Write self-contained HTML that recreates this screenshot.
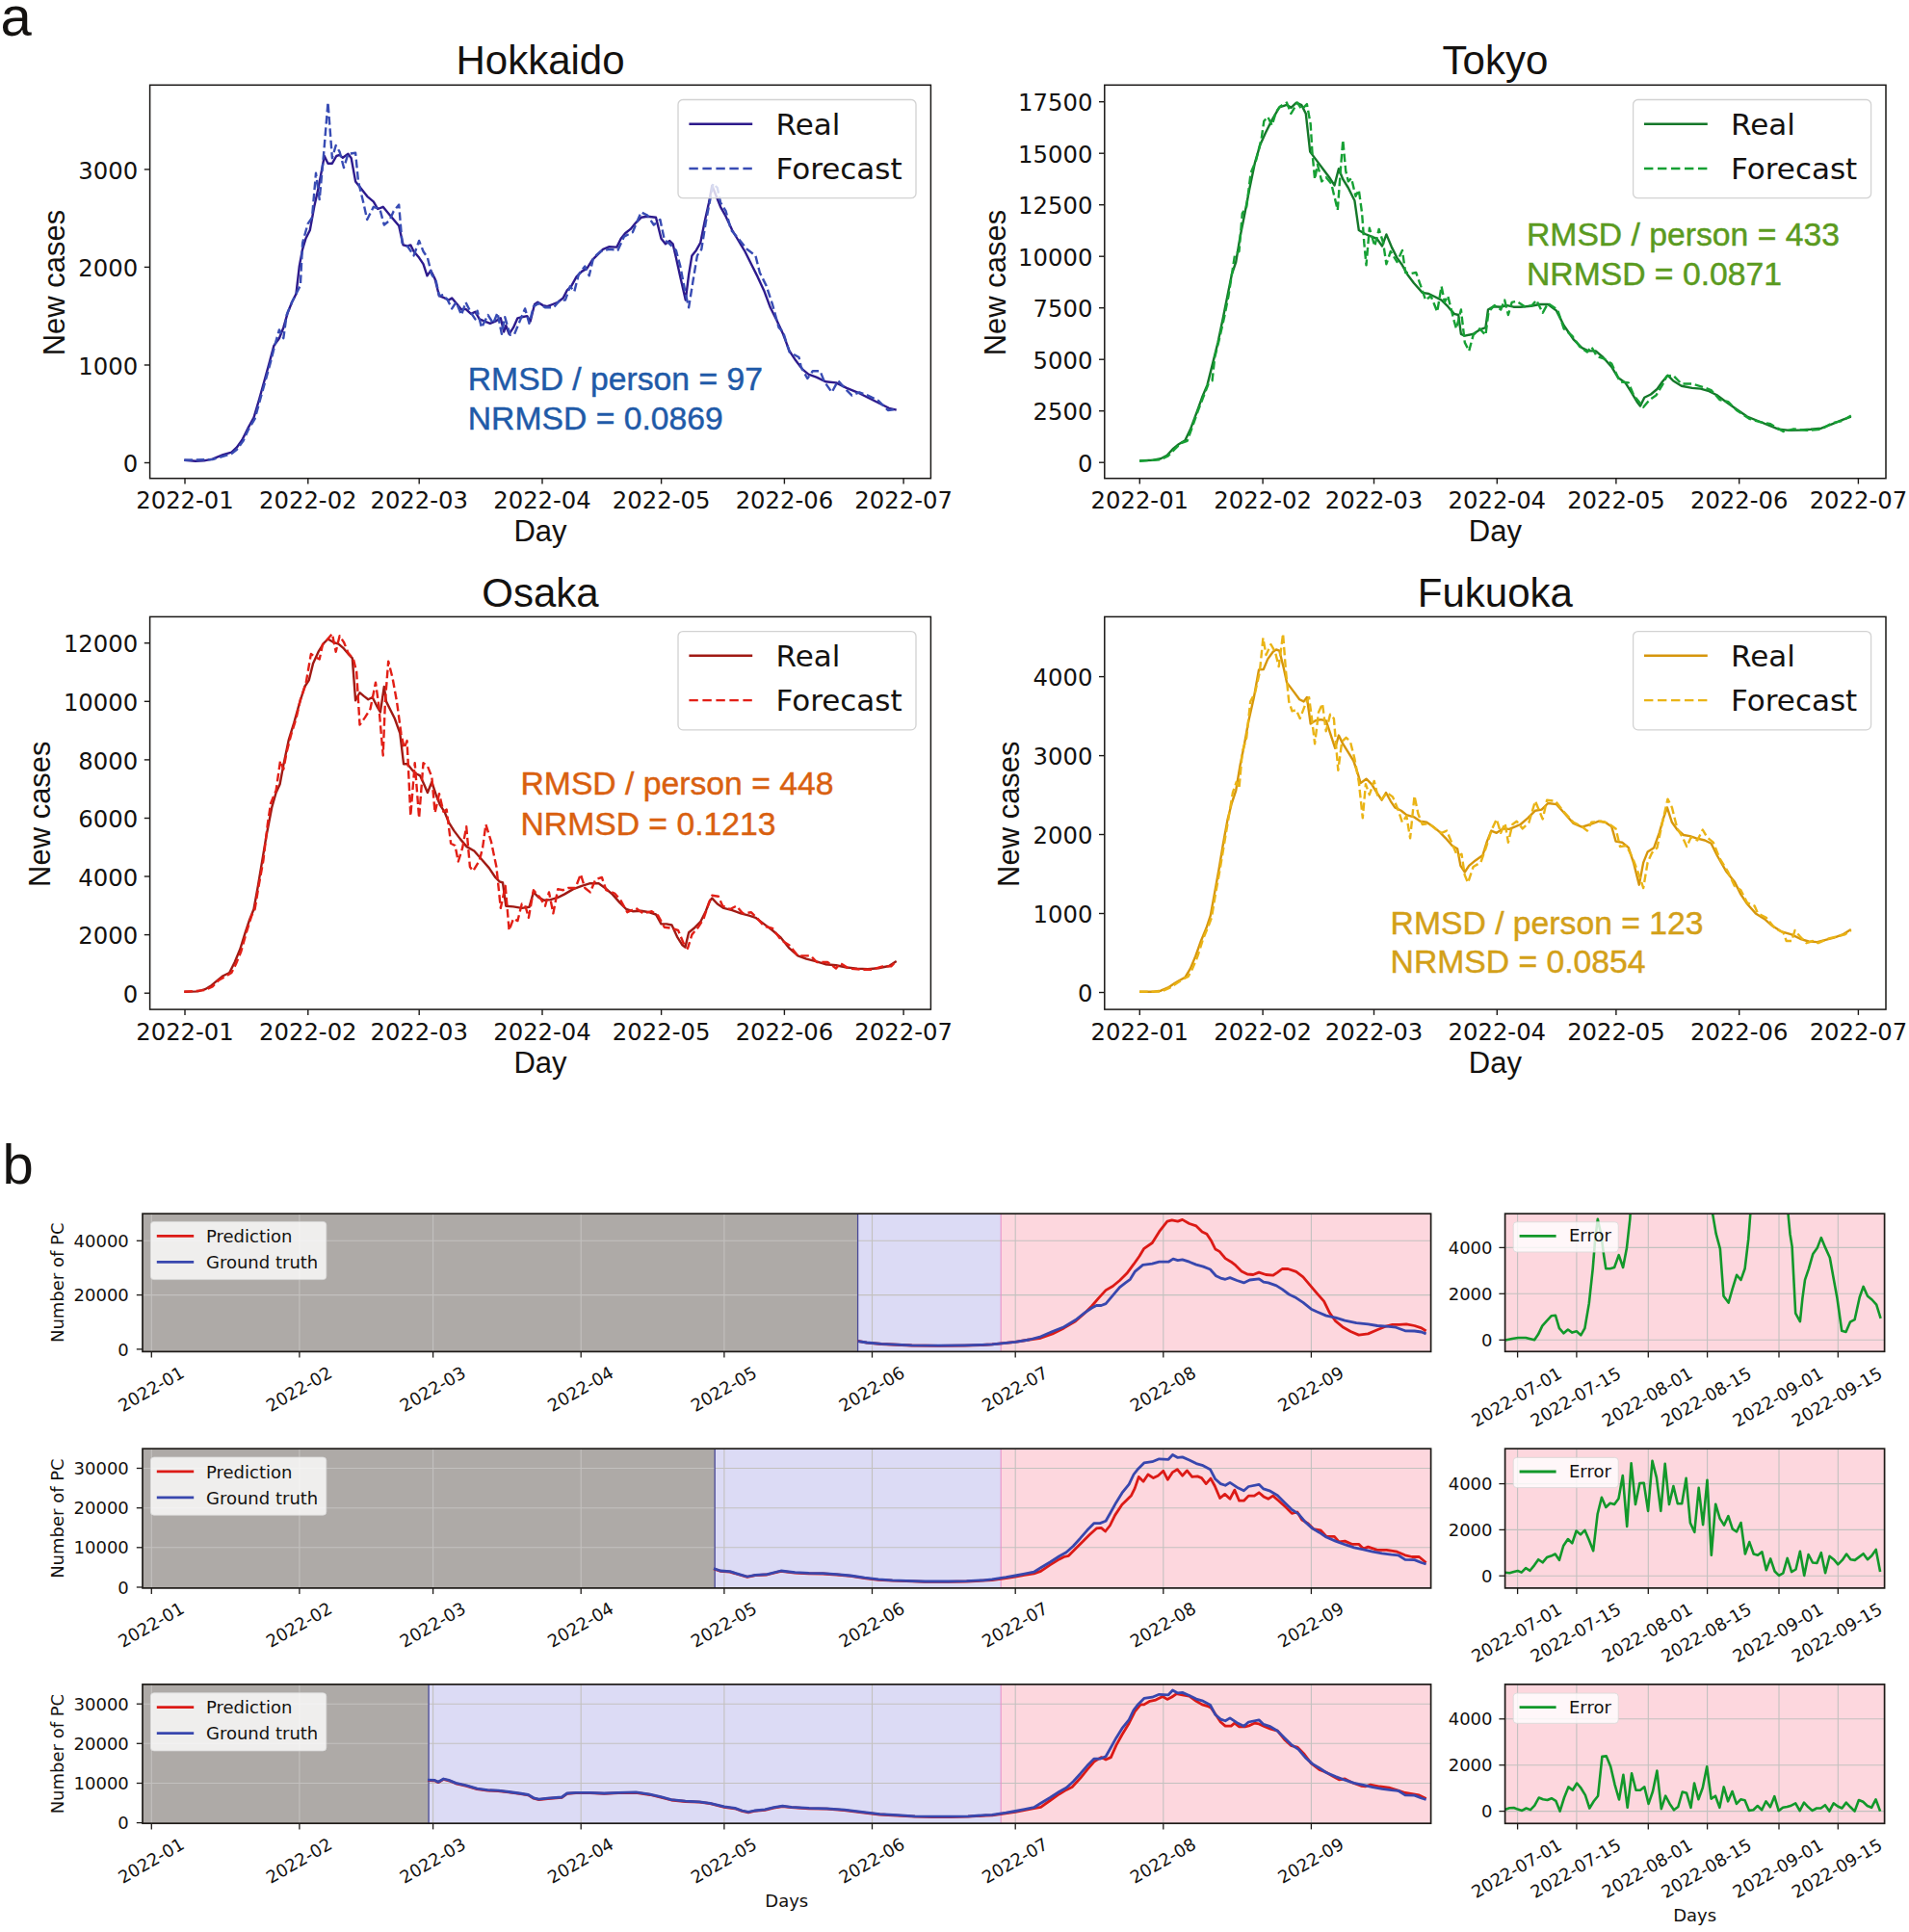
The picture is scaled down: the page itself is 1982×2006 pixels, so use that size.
<!DOCTYPE html>
<html lang="en">
<head>
<meta charset="utf-8">
<title>Forecast figure</title>
<style>html,body{margin:0;padding:0;background:#fff}svg{display:block}text{white-space:pre}</style>
</head>
<body>
<svg width="1982" height="2006" viewBox="0 0 1982 2006">
<rect x="0" y="0" width="1982" height="2006" fill="#ffffff"/>
<text x="0.6" y="37.2" font-family="'Liberation Sans', 'DejaVu Sans', sans-serif" font-size="58" text-anchor="start" fill="#141210">a</text>
<text x="2.6" y="1229" font-family="'Liberation Sans', 'DejaVu Sans', sans-serif" font-size="58" text-anchor="start" fill="#141210">b</text>
<polyline fill="none" stroke="#2d1a8c" stroke-width="2.4" stroke-linejoin="round" stroke-linecap="butt" points="191.3,477.7 203,478.8 211.8,478.4 220.6,476.6 231.6,472.2 240.4,469.6 245.9,464.5 251.4,456.8 258,443.6 263.5,433.7 269,415 274.5,395.2 280,375.4 284.4,358.9 289.9,351.2 294.3,340.2 298.7,324.8 303.1,313.8 307.5,305 310.8,276.4 314.1,258.8 317.4,247.8 321.8,239 326.2,214.8 330.6,195 333.9,177.4 336.8,162 340.5,169.7 344.9,169.7 349.3,162 352.6,160.9 355.9,163.8 361.4,159.8 364.7,164.2 369.1,188.4 373.5,193.9 381.2,203.8 387.8,209.3 392.2,217 397.7,214.8 403.2,221.4 408.7,228 414.2,234.6 418.6,254.4 423,255.5 426.3,254.4 429.6,261 435.1,267.6 439.5,274.2 443.5,286.3 447.2,280.8 451.6,289.6 456,307.2 461.5,309.4 465.9,311.6 469.2,309.4 474.7,316 479.1,321.5 483.5,320.9 489,325.9 493.4,323.7 497.8,331.4 503.3,333.6 508.8,335.8 514.3,333.6 519.8,330.3 523.1,344.6 525.3,338 528.6,346.8 533,340.2 537.4,330.3 541.8,329.2 547.3,328.1 550.6,333.6 555,316 558.3,313.8 563.8,317.1 568.2,318.2 573.7,316 579.2,313.8 584.7,309.4 588.6,301.7 593,297.3 598.5,287.4 604,281.9 609.5,278.6 615,269.8 620.5,264.3 626,258.8 632.6,256.2 640.3,256.6 644.7,247.8 649.1,242.3 654.6,237.9 660.1,231.3 665.6,225.8 672.2,224.7 681,225.8 686.5,247.8 690.9,253.3 695.3,250 698.6,253.3 701.9,267.6 706.3,287.4 711.8,311.6 715.1,285.2 718.4,265.4 722.8,259.9 727.2,252.2 731.6,230.2 736,210.4 739.3,192.8 743.7,203.8 748.1,214.8 753.6,224.7 760.2,239 766.8,250 773.4,261 780,274.2 786.6,287.4 793.2,301.7 799.8,319.3 806.4,332.5 813,346.8 819.6,364.4 826.2,374.3 832.8,383.1 839.4,388.6 848.2,391.9 857,396.3 868,397.4 879,402.9 890,407.3 901,412.8 912,418.3 923,423.8 930.7,425.6"/>
<polyline fill="none" stroke="#384cb4" stroke-width="2.4" stroke-linejoin="round" stroke-linecap="butt" stroke-dasharray="8.6 3.8" points="191.3,477.7 220.6,477.1 240.4,471.1 245.9,466.7 252.5,457.9 258,445.8 264.6,434.8 270.1,415 275.6,395.2 281.1,375.4 285.5,357.8 289.9,342.4 294.3,351.2 297.6,327 303.1,313.8 307.5,305 311.9,296.2 314.1,252.2 319.6,232.4 324,225.8 328,179.6 331.7,207.1 336.1,159.8 340.5,106.3 344.9,164.2 348.7,151 352.6,157.6 357,174.1 361.4,159.8 369.1,158.7 372,188.4 376.8,208.2 381.2,228 387.8,214.8 394.4,217 398.8,233.5 404.3,229.1 408.7,219.2 414.2,212.6 417.5,252.2 423,255.5 429.6,265.4 435.1,250 439.5,261 443.9,267.6 448.3,285.2 452.7,291.8 456,307.2 460.4,306.1 464.8,311.6 469.2,320.4 473.6,313.8 479.1,327 483.5,313.8 489,324.8 493.4,331.4 495.6,322.6 500,340.2 506.6,327 512.1,335.8 516.5,324.8 520.9,346.8 524.2,329.2 529.7,347.9 534.1,346.8 539.6,333.6 545.1,320.4 549.5,335.8 553.9,318.2 559.4,314.9 566,319.3 574.8,319.3 581.4,311.6 586.9,311.6 591.9,297.3 596.3,302.8 600.7,285.2 607.3,276.4 611.7,286.3 616.1,267.6 623.8,261 632.6,258.8 641.4,259.9 648,245.6 656.8,241.2 665.6,220.3 672.2,223.6 678.8,233.5 685.4,228 689.8,248.9 695.3,253.3 701.9,259.9 706.3,276.4 711.8,305 715.1,319.3 719.5,291.8 723.9,265.4 728.3,258.8 732.7,231.3 737.1,208.2 740.4,190.6 744.8,195 748.1,210.4 753.6,219.2 759.1,239 766.8,247.8 775.6,258.8 784.4,265.4 788.8,283 795.4,296.2 802,316 808.6,340.2 813,344.6 819.6,365.5 829.5,371 831.7,380.9 838.3,393 843.8,385.3 851.5,385.3 855.9,396.3 863.6,407.3 870.2,395.2 876.8,402.9 884.5,410.6 892.2,407.3 901,410.6 912,416.1 921.9,426 930.7,424.9"/>
<rect x="704" y="103.5" width="247" height="102.2" rx="5" ry="5" fill="#ffffff" fill-opacity="0.8" stroke="#d2d2d2" stroke-width="1.3"/>
<line x1="715.4" y1="128.7" x2="781.2" y2="128.7" stroke="#2d1a8c" stroke-width="2.4"/>
<line x1="715.4" y1="175" x2="781.2" y2="175" stroke="#384cb4" stroke-width="2.4" stroke-dasharray="9.4 4.6"/>
<text x="805.5" y="139.6" font-family="'DejaVu Sans', 'Liberation Sans', sans-serif" font-size="31" text-anchor="start" fill="#141210">Real</text>
<text x="805.5" y="186" font-family="'DejaVu Sans', 'Liberation Sans', sans-serif" font-size="31" text-anchor="start" fill="#141210">Forecast</text>
<rect x="155.6" y="88.3" width="810.8" height="408.4" fill="none" stroke="#1a1816" stroke-width="1.5"/>
<line x1="192" y1="496.7" x2="192" y2="502.5" stroke="#1c1a18" stroke-width="1.4"/>
<text x="192" y="528.1" font-family="'DejaVu Sans', 'Liberation Sans', sans-serif" font-size="24.3" text-anchor="middle" fill="#141210">2022-01</text>
<line x1="319.8" y1="496.7" x2="319.8" y2="502.5" stroke="#1c1a18" stroke-width="1.4"/>
<text x="319.8" y="528.1" font-family="'DejaVu Sans', 'Liberation Sans', sans-serif" font-size="24.3" text-anchor="middle" fill="#141210">2022-02</text>
<line x1="435.2" y1="496.7" x2="435.2" y2="502.5" stroke="#1c1a18" stroke-width="1.4"/>
<text x="435.2" y="528.1" font-family="'DejaVu Sans', 'Liberation Sans', sans-serif" font-size="24.3" text-anchor="middle" fill="#141210">2022-03</text>
<line x1="563" y1="496.7" x2="563" y2="502.5" stroke="#1c1a18" stroke-width="1.4"/>
<text x="563" y="528.1" font-family="'DejaVu Sans', 'Liberation Sans', sans-serif" font-size="24.3" text-anchor="middle" fill="#141210">2022-04</text>
<line x1="686.6" y1="496.7" x2="686.6" y2="502.5" stroke="#1c1a18" stroke-width="1.4"/>
<text x="686.6" y="528.1" font-family="'DejaVu Sans', 'Liberation Sans', sans-serif" font-size="24.3" text-anchor="middle" fill="#141210">2022-05</text>
<line x1="814.4" y1="496.7" x2="814.4" y2="502.5" stroke="#1c1a18" stroke-width="1.4"/>
<text x="814.4" y="528.1" font-family="'DejaVu Sans', 'Liberation Sans', sans-serif" font-size="24.3" text-anchor="middle" fill="#141210">2022-06</text>
<line x1="938.1" y1="496.7" x2="938.1" y2="502.5" stroke="#1c1a18" stroke-width="1.4"/>
<text x="938.1" y="528.1" font-family="'DejaVu Sans', 'Liberation Sans', sans-serif" font-size="24.3" text-anchor="middle" fill="#141210">2022-07</text>
<line x1="149.8" y1="480.5" x2="155.6" y2="480.5" stroke="#1c1a18" stroke-width="1.4"/>
<text x="143.2" y="490.2" font-family="'DejaVu Sans', 'Liberation Sans', sans-serif" font-size="24.3" text-anchor="end" fill="#141210">0</text>
<line x1="149.8" y1="379" x2="155.6" y2="379" stroke="#1c1a18" stroke-width="1.4"/>
<text x="143.2" y="388.7" font-family="'DejaVu Sans', 'Liberation Sans', sans-serif" font-size="24.3" text-anchor="end" fill="#141210">1000</text>
<line x1="149.8" y1="277.4" x2="155.6" y2="277.4" stroke="#1c1a18" stroke-width="1.4"/>
<text x="143.2" y="287.1" font-family="'DejaVu Sans', 'Liberation Sans', sans-serif" font-size="24.3" text-anchor="end" fill="#141210">2000</text>
<line x1="149.8" y1="175.9" x2="155.6" y2="175.9" stroke="#1c1a18" stroke-width="1.4"/>
<text x="143.2" y="185.6" font-family="'DejaVu Sans', 'Liberation Sans', sans-serif" font-size="24.3" text-anchor="end" fill="#141210">3000</text>
<text x="561" y="562.4" font-family="'Liberation Sans', 'DejaVu Sans', sans-serif" font-size="31" text-anchor="middle" fill="#141210">Day</text>
<text transform="translate(66.9,293.5) rotate(-90)" x="0" y="0" font-family="'Liberation Sans', 'DejaVu Sans', sans-serif" font-size="31" text-anchor="middle" fill="#141210">New cases</text>
<text x="561" y="77.4" font-family="'Liberation Sans', 'DejaVu Sans', sans-serif" font-size="42" text-anchor="middle" fill="#141210">Hokkaido</text>
<text x="485.8" y="404.9" font-family="'Liberation Sans', 'DejaVu Sans', sans-serif" font-size="33.7" text-anchor="start" fill="#1f5aa8" stroke="#1f5aa8" stroke-width="0.45">RMSD / person = 97</text>
<text x="485.8" y="445.9" font-family="'Liberation Sans', 'DejaVu Sans', sans-serif" font-size="33.7" text-anchor="start" fill="#1f5aa8" stroke="#1f5aa8" stroke-width="0.45">NRMSD = 0.0869</text>
<polyline fill="none" stroke="#15782a" stroke-width="2.4" stroke-linejoin="round" stroke-linecap="butt" points="1183.1,478.4 1197.4,477.7 1205.1,476.2 1211.7,472.7 1218.3,465.6 1223.8,461.2 1230.4,457.3 1235.9,445.8 1242.5,428.2 1248,412.8 1253.5,399.6 1259,377.6 1264.5,355.6 1270,329.2 1274.4,307.2 1278.8,285.2 1283.2,272 1287.6,245.6 1292,223.6 1297.5,195 1303,168.6 1308.5,149.9 1314,137.8 1320.6,124.6 1328.3,111.4 1336,108.8 1340.4,111.8 1345.9,106.6 1351.4,109.2 1355.8,118 1360.2,157.6 1366.8,166.4 1373.4,175.2 1380,184 1385.5,192.4 1389.9,175.2 1394.3,186.2 1399.8,195 1406.4,208.2 1410.8,239 1417.4,243 1424,245.6 1429.5,247.8 1435,255.5 1439.4,243.4 1444.9,256.6 1450.4,267.6 1455.9,275.3 1461.4,285.2 1468,294 1476.8,303.9 1483.4,305 1490,308.3 1496.6,311.6 1503.2,318.2 1509.8,325.9 1514.2,327 1516.9,346.8 1520.8,348.6 1529.6,346.8 1536.2,342.4 1542.4,340.2 1545,321.5 1550.5,318.2 1558.2,318.7 1564.8,317.1 1571.4,318.7 1578.6,318.7 1589.6,317.8 1598.4,316 1607.2,316 1616,322.6 1623.7,338 1633.6,352.3 1642.4,361.1 1649,364.4 1656.7,364.4 1664.4,371 1673.2,380.9 1679.8,391.9 1687.5,397.4 1693,406.2 1699.6,417.2 1702.9,421.6 1707.3,412.8 1713.9,409.5 1720.5,404 1726,396.3 1731.5,389.7 1737,395.2 1745.8,400.7 1756.8,402.9 1765.6,403.6 1774.4,406.2 1783.2,410.6 1792,417.2 1803,424.9 1814,432.6 1825,437 1836,441.4 1847,445.8 1858,446.9 1869,446.5 1880,445.8 1891,444.7 1902,440.3 1913,435.9 1921.8,432.6"/>
<polyline fill="none" stroke="#16a034" stroke-width="2.4" stroke-linejoin="round" stroke-linecap="butt" stroke-dasharray="8.6 3.8" points="1183.1,478.8 1205.1,477.1 1212.8,473.3 1219.4,466.7 1226,460.1 1232.6,457.9 1237,445.8 1243.6,427.1 1249.1,412.8 1254.6,398.5 1258.6,395.2 1261.2,371 1265.6,353.4 1271.1,329.2 1275.5,307.2 1279.9,278.6 1282.1,264.3 1286.5,261 1289.8,221.4 1294.2,214.8 1298.6,179.6 1304.1,166.4 1309.6,144.4 1312.3,125.7 1316.2,121.3 1320.6,130.1 1325,115.8 1329.4,110.3 1336,106.6 1340.4,118 1347,106.6 1351.4,113.6 1356.9,108.1 1360.7,129 1362.4,157.6 1365.1,186.2 1367.9,170.8 1372.3,188.4 1376.7,184 1382.2,190.6 1388.8,218.1 1392.1,173 1394.3,145.5 1397.2,177.4 1399.8,188.4 1403.1,185.1 1407.5,203.8 1410.8,197.2 1414.1,221.4 1416.3,252.2 1418.5,275.3 1421.8,236.8 1427.3,255.5 1431.7,237.9 1436.1,252.2 1439.4,274.2 1443.8,261 1450.4,272 1455.9,259.9 1459.2,283 1464.7,284.1 1470.2,283 1476.8,301.7 1480.1,311.6 1485.6,307.2 1492.2,323.7 1496.6,297.3 1499.9,313.8 1503.2,307.2 1509.8,333.6 1512,341.3 1516.9,321.5 1520.8,355.6 1525.2,364.4 1529.6,347.9 1536.2,341.3 1542.4,347.9 1545.5,323.7 1551.6,317.1 1558.2,321.5 1562.2,311.6 1565.9,327 1569.7,313.8 1574.7,312.7 1583,318.2 1590.7,317.1 1595.1,311.6 1601.7,324.8 1607.2,314.9 1617.1,321.5 1623.7,341.3 1632.5,349 1640.2,360 1647.9,365.5 1652.3,360 1657.8,369.9 1664.4,372.1 1673.2,377.6 1682,396.3 1690.8,397.4 1696.3,410.6 1701.8,417.2 1706.2,422.7 1712.8,415 1719.4,410.6 1726,399.6 1730.4,390.8 1737,389.7 1745.8,398.5 1756.8,398.5 1767.8,401.8 1776.6,405.1 1785.4,415 1794.2,417.2 1803,426 1816.2,434.8 1827.2,438.1 1838.2,440.3 1851.4,448 1862.4,445.4 1875.6,446.9 1891,445.8 1902,439.2 1913,437 1921.8,431.5"/>
<rect x="1695.6" y="103.5" width="247" height="102.2" rx="5" ry="5" fill="#ffffff" fill-opacity="0.8" stroke="#d2d2d2" stroke-width="1.3"/>
<line x1="1707" y1="128.7" x2="1772.8" y2="128.7" stroke="#15782a" stroke-width="2.4"/>
<line x1="1707" y1="175" x2="1772.8" y2="175" stroke="#16a034" stroke-width="2.4" stroke-dasharray="9.4 4.6"/>
<text x="1797.1" y="139.6" font-family="'DejaVu Sans', 'Liberation Sans', sans-serif" font-size="31" text-anchor="start" fill="#141210">Real</text>
<text x="1797.1" y="186" font-family="'DejaVu Sans', 'Liberation Sans', sans-serif" font-size="31" text-anchor="start" fill="#141210">Forecast</text>
<rect x="1146.8" y="88.3" width="811.2" height="408.4" fill="none" stroke="#1a1816" stroke-width="1.5"/>
<line x1="1183.3" y1="496.7" x2="1183.3" y2="502.5" stroke="#1c1a18" stroke-width="1.4"/>
<text x="1183.3" y="528.1" font-family="'DejaVu Sans', 'Liberation Sans', sans-serif" font-size="24.3" text-anchor="middle" fill="#141210">2022-01</text>
<line x1="1311.1" y1="496.7" x2="1311.1" y2="502.5" stroke="#1c1a18" stroke-width="1.4"/>
<text x="1311.1" y="528.1" font-family="'DejaVu Sans', 'Liberation Sans', sans-serif" font-size="24.3" text-anchor="middle" fill="#141210">2022-02</text>
<line x1="1426.5" y1="496.7" x2="1426.5" y2="502.5" stroke="#1c1a18" stroke-width="1.4"/>
<text x="1426.5" y="528.1" font-family="'DejaVu Sans', 'Liberation Sans', sans-serif" font-size="24.3" text-anchor="middle" fill="#141210">2022-03</text>
<line x1="1554.3" y1="496.7" x2="1554.3" y2="502.5" stroke="#1c1a18" stroke-width="1.4"/>
<text x="1554.3" y="528.1" font-family="'DejaVu Sans', 'Liberation Sans', sans-serif" font-size="24.3" text-anchor="middle" fill="#141210">2022-04</text>
<line x1="1677.9" y1="496.7" x2="1677.9" y2="502.5" stroke="#1c1a18" stroke-width="1.4"/>
<text x="1677.9" y="528.1" font-family="'DejaVu Sans', 'Liberation Sans', sans-serif" font-size="24.3" text-anchor="middle" fill="#141210">2022-05</text>
<line x1="1805.7" y1="496.7" x2="1805.7" y2="502.5" stroke="#1c1a18" stroke-width="1.4"/>
<text x="1805.7" y="528.1" font-family="'DejaVu Sans', 'Liberation Sans', sans-serif" font-size="24.3" text-anchor="middle" fill="#141210">2022-06</text>
<line x1="1929.4" y1="496.7" x2="1929.4" y2="502.5" stroke="#1c1a18" stroke-width="1.4"/>
<text x="1929.4" y="528.1" font-family="'DejaVu Sans', 'Liberation Sans', sans-serif" font-size="24.3" text-anchor="middle" fill="#141210">2022-07</text>
<line x1="1141" y1="480.2" x2="1146.8" y2="480.2" stroke="#1c1a18" stroke-width="1.4"/>
<text x="1134.4" y="489.9" font-family="'DejaVu Sans', 'Liberation Sans', sans-serif" font-size="24.3" text-anchor="end" fill="#141210">0</text>
<line x1="1141" y1="426.7" x2="1146.8" y2="426.7" stroke="#1c1a18" stroke-width="1.4"/>
<text x="1134.4" y="436.4" font-family="'DejaVu Sans', 'Liberation Sans', sans-serif" font-size="24.3" text-anchor="end" fill="#141210">2500</text>
<line x1="1141" y1="373.2" x2="1146.8" y2="373.2" stroke="#1c1a18" stroke-width="1.4"/>
<text x="1134.4" y="382.9" font-family="'DejaVu Sans', 'Liberation Sans', sans-serif" font-size="24.3" text-anchor="end" fill="#141210">5000</text>
<line x1="1141" y1="319.7" x2="1146.8" y2="319.7" stroke="#1c1a18" stroke-width="1.4"/>
<text x="1134.4" y="329.4" font-family="'DejaVu Sans', 'Liberation Sans', sans-serif" font-size="24.3" text-anchor="end" fill="#141210">7500</text>
<line x1="1141" y1="266.2" x2="1146.8" y2="266.2" stroke="#1c1a18" stroke-width="1.4"/>
<text x="1134.4" y="275.9" font-family="'DejaVu Sans', 'Liberation Sans', sans-serif" font-size="24.3" text-anchor="end" fill="#141210">10000</text>
<line x1="1141" y1="212.7" x2="1146.8" y2="212.7" stroke="#1c1a18" stroke-width="1.4"/>
<text x="1134.4" y="222.4" font-family="'DejaVu Sans', 'Liberation Sans', sans-serif" font-size="24.3" text-anchor="end" fill="#141210">12500</text>
<line x1="1141" y1="159.2" x2="1146.8" y2="159.2" stroke="#1c1a18" stroke-width="1.4"/>
<text x="1134.4" y="168.9" font-family="'DejaVu Sans', 'Liberation Sans', sans-serif" font-size="24.3" text-anchor="end" fill="#141210">15000</text>
<line x1="1141" y1="105.7" x2="1146.8" y2="105.7" stroke="#1c1a18" stroke-width="1.4"/>
<text x="1134.4" y="115.4" font-family="'DejaVu Sans', 'Liberation Sans', sans-serif" font-size="24.3" text-anchor="end" fill="#141210">17500</text>
<text x="1552.4" y="562.4" font-family="'Liberation Sans', 'DejaVu Sans', sans-serif" font-size="31" text-anchor="middle" fill="#141210">Day</text>
<text transform="translate(1043.9,293.5) rotate(-90)" x="0" y="0" font-family="'Liberation Sans', 'DejaVu Sans', sans-serif" font-size="31" text-anchor="middle" fill="#141210">New cases</text>
<text x="1552.4" y="77.4" font-family="'Liberation Sans', 'DejaVu Sans', sans-serif" font-size="42" text-anchor="middle" fill="#141210">Tokyo</text>
<text x="1585" y="254.6" font-family="'Liberation Sans', 'DejaVu Sans', sans-serif" font-size="33.7" text-anchor="start" fill="#5a9a20" stroke="#5a9a20" stroke-width="0.45">RMSD / person = 433</text>
<text x="1585" y="295.9" font-family="'Liberation Sans', 'DejaVu Sans', sans-serif" font-size="33.7" text-anchor="start" fill="#5a9a20" stroke="#5a9a20" stroke-width="0.45">NRMSD = 0.0871</text>
<polyline fill="none" stroke="#a01a14" stroke-width="2.4" stroke-linejoin="round" stroke-linecap="butt" points="191.3,1029.8 205.2,1029.4 212.9,1027.2 219.5,1023.2 226.1,1017.7 231.6,1013.3 238.2,1010 243.7,999 249.2,985.8 254.7,968.2 259.1,955 263.5,944 267.9,919.8 272.3,893.4 276.7,867 282.2,838.4 286.6,823 290.6,814.2 294.3,794.4 299.8,768 305.3,750.4 310.8,730.6 316.3,713 320.7,706.4 325.1,688.8 330.6,676.7 336.1,667.9 340.5,663.5 346,666.8 351.5,668.6 357,673.4 362.5,680 365.8,683.3 369.1,727.3 373.5,719.2 377.9,722.9 382.3,726.2 386.7,724 391.1,732.8 394.9,739.4 398.8,713 401,728.4 405.4,737.2 409.8,746 415.3,761.4 419.1,793.3 423,793.3 427.4,798.8 431.8,803.2 436.2,805.4 440.2,814.2 443.9,823 448.3,812 452.7,825.2 457.1,836.2 461.5,842.8 465.9,853.8 471.4,862.6 478,871.4 484.6,879.1 492.3,883.5 500,892.3 507.7,901.1 514.3,911 518.7,915.4 522,916.5 525.3,940.7 533,941.4 541.8,942.9 549.5,941.8 553.9,926.4 559.4,931.9 564.9,934.8 571.5,934.1 579.2,931.9 585.8,928.6 595.2,923.1 604,919.8 612.8,917.2 621.6,917.2 628.2,922 635.9,928.6 643.6,937.4 650.2,944 656.8,946.2 665.6,945.8 674.4,947.3 681,949.5 686.5,959.4 692,959.4 697.5,960.5 703,972.6 708.5,981.4 711.4,983.6 715.1,968.2 720.6,963.8 727.2,957.2 732.7,946.2 737.1,935.2 739.3,932.6 744.8,938.5 751.4,942.9 760.2,945.1 769,948.4 777.8,950.6 784.4,952.8 793.2,959.4 802,966 810.8,973.7 819.6,984.7 828.4,992.4 837.2,995.7 846,997.9 857,1001.2 868,1002.3 879,1004.5 890,1005.6 901,1006.3 912,1005.2 923,1003 930.7,997.9"/>
<polyline fill="none" stroke="#e21f16" stroke-width="2.4" stroke-linejoin="round" stroke-linecap="butt" stroke-dasharray="8.6 3.8" points="191.3,1029.8 212.9,1028.1 220.6,1024.3 227.2,1017.7 234.9,1013.3 240.4,1010 244.8,1001.2 250.3,988 255.8,968.2 261.3,950.6 264.6,944 269,917.6 273.4,893.4 277.8,856 281.1,834 286.6,820.8 291,790 294.3,798.8 297.6,781.2 302,763.6 307.5,746 311.9,726.2 317.4,710.8 322.9,678.9 327.3,682.2 331.7,684.4 335,669 339.4,664.6 344.9,658 348.7,676.7 352.6,660.2 357,666.8 361.4,677.8 366.9,684.4 370.2,697.6 373.5,752.6 379,744.9 384.5,736.1 390,708.6 393.3,732.8 397.7,784.5 399.9,728.4 403.2,686.6 407.6,704.2 412,728.4 416.4,761.4 419.7,776.8 422.6,769.1 426.3,847.2 430.7,792.2 435.1,849.4 439.5,792.2 443.9,795.5 448.3,806.5 451.6,843.9 456,824.1 460.4,842.8 463.7,840.6 468.1,875.8 472.5,878 475.8,894.5 480.2,880.2 484.2,858.2 487.9,900 491.2,904.4 497.8,893.4 501.1,880.2 504.4,856 509.9,873.6 515.4,900 519.8,942.9 524.7,919.8 528.6,966 533,953.9 537.4,956.1 541.8,938.5 545.1,939.6 548.9,952.8 553.9,924.2 560.5,931.9 566,940.7 570,926.4 574.4,948.4 579.2,923.1 584.7,924.2 589.7,922 597.4,922 602.9,907.7 607.3,922 612.8,926.4 618.3,913.2 624.9,911 629.3,924.2 638.1,927.5 644.7,935.2 651.3,947.3 660.1,942.9 667.8,948.4 676.6,946.2 683.2,950.6 689.8,962.7 697.5,963.8 704.1,966 709.6,979.2 714,984.7 718.4,970.4 725,962.7 730.5,953.9 736,937.4 739.3,929.7 745.9,930.8 750.3,940.7 758,944 764.6,940.7 771.2,948.4 780,947.3 786.6,953.9 793.2,961.6 802,963.8 810.8,975.9 819.6,981.4 828.4,992.4 841.6,992.4 848.2,999 859.2,999 868,1005.6 872.4,1000.1 881.2,1005.6 894.4,1006.7 905.4,1006.7 916.4,1003.4 925.2,1003.4 930.7,997.9"/>
<rect x="704" y="655.6" width="247" height="102.2" rx="5" ry="5" fill="#ffffff" fill-opacity="0.8" stroke="#d2d2d2" stroke-width="1.3"/>
<line x1="715.4" y1="680.8" x2="781.2" y2="680.8" stroke="#a01a14" stroke-width="2.4"/>
<line x1="715.4" y1="727.1" x2="781.2" y2="727.1" stroke="#e21f16" stroke-width="2.4" stroke-dasharray="9.4 4.6"/>
<text x="805.5" y="691.7" font-family="'DejaVu Sans', 'Liberation Sans', sans-serif" font-size="31" text-anchor="start" fill="#141210">Real</text>
<text x="805.5" y="738.1" font-family="'DejaVu Sans', 'Liberation Sans', sans-serif" font-size="31" text-anchor="start" fill="#141210">Forecast</text>
<rect x="155.6" y="640.4" width="810.8" height="407.7" fill="none" stroke="#1a1816" stroke-width="1.5"/>
<line x1="192" y1="1048.1" x2="192" y2="1053.9" stroke="#1c1a18" stroke-width="1.4"/>
<text x="192" y="1079.5" font-family="'DejaVu Sans', 'Liberation Sans', sans-serif" font-size="24.3" text-anchor="middle" fill="#141210">2022-01</text>
<line x1="319.8" y1="1048.1" x2="319.8" y2="1053.9" stroke="#1c1a18" stroke-width="1.4"/>
<text x="319.8" y="1079.5" font-family="'DejaVu Sans', 'Liberation Sans', sans-serif" font-size="24.3" text-anchor="middle" fill="#141210">2022-02</text>
<line x1="435.2" y1="1048.1" x2="435.2" y2="1053.9" stroke="#1c1a18" stroke-width="1.4"/>
<text x="435.2" y="1079.5" font-family="'DejaVu Sans', 'Liberation Sans', sans-serif" font-size="24.3" text-anchor="middle" fill="#141210">2022-03</text>
<line x1="563" y1="1048.1" x2="563" y2="1053.9" stroke="#1c1a18" stroke-width="1.4"/>
<text x="563" y="1079.5" font-family="'DejaVu Sans', 'Liberation Sans', sans-serif" font-size="24.3" text-anchor="middle" fill="#141210">2022-04</text>
<line x1="686.6" y1="1048.1" x2="686.6" y2="1053.9" stroke="#1c1a18" stroke-width="1.4"/>
<text x="686.6" y="1079.5" font-family="'DejaVu Sans', 'Liberation Sans', sans-serif" font-size="24.3" text-anchor="middle" fill="#141210">2022-05</text>
<line x1="814.4" y1="1048.1" x2="814.4" y2="1053.9" stroke="#1c1a18" stroke-width="1.4"/>
<text x="814.4" y="1079.5" font-family="'DejaVu Sans', 'Liberation Sans', sans-serif" font-size="24.3" text-anchor="middle" fill="#141210">2022-06</text>
<line x1="938.1" y1="1048.1" x2="938.1" y2="1053.9" stroke="#1c1a18" stroke-width="1.4"/>
<text x="938.1" y="1079.5" font-family="'DejaVu Sans', 'Liberation Sans', sans-serif" font-size="24.3" text-anchor="middle" fill="#141210">2022-07</text>
<line x1="149.8" y1="1031.2" x2="155.6" y2="1031.2" stroke="#1c1a18" stroke-width="1.4"/>
<text x="143.2" y="1040.9" font-family="'DejaVu Sans', 'Liberation Sans', sans-serif" font-size="24.3" text-anchor="end" fill="#141210">0</text>
<line x1="149.8" y1="970.6" x2="155.6" y2="970.6" stroke="#1c1a18" stroke-width="1.4"/>
<text x="143.2" y="980.3" font-family="'DejaVu Sans', 'Liberation Sans', sans-serif" font-size="24.3" text-anchor="end" fill="#141210">2000</text>
<line x1="149.8" y1="910" x2="155.6" y2="910" stroke="#1c1a18" stroke-width="1.4"/>
<text x="143.2" y="919.7" font-family="'DejaVu Sans', 'Liberation Sans', sans-serif" font-size="24.3" text-anchor="end" fill="#141210">4000</text>
<line x1="149.8" y1="849.5" x2="155.6" y2="849.5" stroke="#1c1a18" stroke-width="1.4"/>
<text x="143.2" y="859.2" font-family="'DejaVu Sans', 'Liberation Sans', sans-serif" font-size="24.3" text-anchor="end" fill="#141210">6000</text>
<line x1="149.8" y1="788.9" x2="155.6" y2="788.9" stroke="#1c1a18" stroke-width="1.4"/>
<text x="143.2" y="798.6" font-family="'DejaVu Sans', 'Liberation Sans', sans-serif" font-size="24.3" text-anchor="end" fill="#141210">8000</text>
<line x1="149.8" y1="728.3" x2="155.6" y2="728.3" stroke="#1c1a18" stroke-width="1.4"/>
<text x="143.2" y="738" font-family="'DejaVu Sans', 'Liberation Sans', sans-serif" font-size="24.3" text-anchor="end" fill="#141210">10000</text>
<line x1="149.8" y1="667.7" x2="155.6" y2="667.7" stroke="#1c1a18" stroke-width="1.4"/>
<text x="143.2" y="677.4" font-family="'DejaVu Sans', 'Liberation Sans', sans-serif" font-size="24.3" text-anchor="end" fill="#141210">12000</text>
<text x="561" y="1113.8" font-family="'Liberation Sans', 'DejaVu Sans', sans-serif" font-size="31" text-anchor="middle" fill="#141210">Day</text>
<text transform="translate(52,845.2) rotate(-90)" x="0" y="0" font-family="'Liberation Sans', 'DejaVu Sans', sans-serif" font-size="31" text-anchor="middle" fill="#141210">New cases</text>
<text x="561" y="629.5" font-family="'Liberation Sans', 'DejaVu Sans', sans-serif" font-size="42" text-anchor="middle" fill="#141210">Osaka</text>
<text x="540.5" y="825.4" font-family="'Liberation Sans', 'DejaVu Sans', sans-serif" font-size="33.7" text-anchor="start" fill="#d9600f" stroke="#d9600f" stroke-width="0.45">RMSD / person = 448</text>
<text x="540.5" y="866.7" font-family="'Liberation Sans', 'DejaVu Sans', sans-serif" font-size="33.7" text-anchor="start" fill="#d9600f" stroke="#d9600f" stroke-width="0.45">NRMSD = 0.1213</text>
<polyline fill="none" stroke="#d6960c" stroke-width="2.4" stroke-linejoin="round" stroke-linecap="butt" points="1183.1,1029.8 1197.4,1029.8 1205.1,1028.7 1212.8,1025.4 1219.4,1021 1224.9,1017.7 1230.4,1014.9 1235.9,1005.6 1241.4,992.4 1246.9,977 1252.4,963.8 1256.8,950.6 1261.2,926.4 1265.6,902.2 1270,875.8 1274.4,851.6 1278.8,834 1283.2,820.8 1287.6,794.4 1292,772.4 1296.4,748.2 1301.9,724 1307,695.4 1311.8,695 1316.2,684.4 1321.7,676.7 1325,674.5 1328.3,675.6 1332.7,693.2 1336,708.6 1342.6,717.4 1349.2,726.2 1353.6,728.4 1356.9,724 1360.7,751.5 1365.7,748.2 1371.2,747.1 1376.7,748.2 1381.1,761.4 1386.2,776.8 1389.9,763.6 1394.3,772.4 1399.8,781.2 1405.3,790 1409.7,803.2 1412.6,813.1 1418.5,808.7 1424,814.2 1429.5,823 1434.6,830.7 1439,823 1443.8,831.8 1448.2,838.4 1454.8,841.7 1460.3,846.1 1468,848.3 1474.6,852.7 1481.2,853.8 1487.8,858.2 1494.4,863.7 1501,870.3 1507.6,878 1513.1,881.3 1516.4,898.9 1520.8,905.5 1525.2,898.9 1531.8,893.4 1539.5,887.9 1543.9,873.6 1548.3,862.6 1553.8,864.8 1560.4,860.4 1567,860.9 1573.6,858.2 1578.6,856 1586.3,849.4 1594,841.7 1600.6,840.6 1607.2,834 1616,835.1 1624.8,845 1633.6,854.9 1642.4,858.7 1651.2,856 1660,852.7 1666.6,853.8 1673.2,858.2 1677.6,873.6 1684.2,874.7 1690.8,880.2 1696.3,896.7 1701.8,918.7 1706.2,895.6 1710.6,884.6 1717.2,880.2 1722.7,864.8 1727.1,849.4 1730.9,838.4 1735.9,853.8 1741.4,861.5 1748,867 1754.6,868.1 1761.2,870.3 1770,872.5 1776.6,875.8 1783.2,889 1792,904.4 1800.8,915.4 1807.4,928.6 1814,938.5 1822.8,948.4 1831.6,953.9 1840.4,961.6 1849.2,967.1 1860.2,970.4 1869,974.8 1877.8,977.5 1886.6,978.1 1895.4,975.9 1904.2,973.7 1913,970.4 1921.8,964.9"/>
<polyline fill="none" stroke="#eab416" stroke-width="2.4" stroke-linejoin="round" stroke-linecap="butt" stroke-dasharray="8.6 3.8" points="1183.1,1029.8 1206.2,1029.4 1215,1025.4 1221.6,1021 1228.2,1016.6 1233.7,1014 1238.1,1005.6 1243.6,992.4 1249.1,974.8 1254.6,961.6 1257.9,952.8 1262.3,926.4 1266.7,902.2 1271.1,875.8 1275.5,849.4 1279.9,823 1283.7,812 1286.5,818.6 1289.8,781.2 1294.2,765.8 1298.2,728.4 1303,719.6 1307.9,697.6 1311.4,662.4 1314.5,680 1319.5,669 1323.9,676.7 1327.7,692.1 1332.1,658 1334.9,695.4 1338.2,728.4 1341.5,738.3 1345.9,737.2 1349.7,746 1354.7,732.8 1359.1,724 1362,746 1365.1,772.4 1369,739.4 1373,730.6 1376.7,759.2 1381.1,741.6 1384.9,746 1389.3,799.9 1393.2,770.2 1397.6,765.8 1402,770.2 1406.4,787.8 1410.8,812 1414.8,849.4 1417.9,814.2 1421.8,825.2 1426.7,810.9 1430.6,827.4 1435,829.6 1439.9,823 1446,827.4 1451.5,840.6 1455.9,853.8 1460.3,847.2 1464.1,870.3 1468.5,826.3 1472.4,845 1476.8,856 1483.4,854.9 1490,860.4 1496.6,864.8 1502.1,862.6 1507.6,875.8 1513.1,889 1517.5,886.8 1520.8,908.8 1524.1,916.5 1529.6,900 1537.3,895.6 1542.8,880.2 1548.3,862.6 1553.8,850.5 1558.2,864.8 1562.6,854.9 1565.9,874.7 1570.3,856 1574.7,852.7 1580.8,860.4 1587.4,853.8 1594,831.8 1601.7,850.5 1606.1,830.7 1614.9,831.8 1622.6,841.7 1633.6,853.8 1642.4,858.2 1647.9,862.6 1652.3,853.8 1662.2,852.7 1669.9,854.9 1677.6,860.4 1682,879.1 1688.6,878 1695.2,891.2 1701.8,908.8 1706.2,922 1710.6,895.6 1715,885.7 1720.5,880.2 1726,853.8 1731.5,829.6 1735.9,838.4 1741.4,860.4 1746.9,869.2 1751.3,879.1 1755.7,869.2 1762.3,872.5 1767.8,861.5 1772.2,869.2 1778.8,874.7 1785.4,891.2 1794.2,905.5 1800.8,919.8 1807.4,924.2 1814,937.4 1821.7,940.7 1825,948.4 1833.8,952.8 1842.6,963.8 1851.4,968.2 1854.7,977 1860.2,977 1863.5,966 1869,972.6 1875.6,979.2 1882.2,977 1887.7,979.2 1897.6,974.8 1906.4,972.6 1915.2,970.4 1921.8,966"/>
<rect x="1695.6" y="655.6" width="247" height="102.2" rx="5" ry="5" fill="#ffffff" fill-opacity="0.8" stroke="#d2d2d2" stroke-width="1.3"/>
<line x1="1707" y1="680.8" x2="1772.8" y2="680.8" stroke="#d6960c" stroke-width="2.4"/>
<line x1="1707" y1="727.1" x2="1772.8" y2="727.1" stroke="#eab416" stroke-width="2.4" stroke-dasharray="9.4 4.6"/>
<text x="1797.1" y="691.7" font-family="'DejaVu Sans', 'Liberation Sans', sans-serif" font-size="31" text-anchor="start" fill="#141210">Real</text>
<text x="1797.1" y="738.1" font-family="'DejaVu Sans', 'Liberation Sans', sans-serif" font-size="31" text-anchor="start" fill="#141210">Forecast</text>
<rect x="1146.8" y="640.4" width="811.2" height="407.7" fill="none" stroke="#1a1816" stroke-width="1.5"/>
<line x1="1183.3" y1="1048.1" x2="1183.3" y2="1053.9" stroke="#1c1a18" stroke-width="1.4"/>
<text x="1183.3" y="1079.5" font-family="'DejaVu Sans', 'Liberation Sans', sans-serif" font-size="24.3" text-anchor="middle" fill="#141210">2022-01</text>
<line x1="1311.1" y1="1048.1" x2="1311.1" y2="1053.9" stroke="#1c1a18" stroke-width="1.4"/>
<text x="1311.1" y="1079.5" font-family="'DejaVu Sans', 'Liberation Sans', sans-serif" font-size="24.3" text-anchor="middle" fill="#141210">2022-02</text>
<line x1="1426.5" y1="1048.1" x2="1426.5" y2="1053.9" stroke="#1c1a18" stroke-width="1.4"/>
<text x="1426.5" y="1079.5" font-family="'DejaVu Sans', 'Liberation Sans', sans-serif" font-size="24.3" text-anchor="middle" fill="#141210">2022-03</text>
<line x1="1554.3" y1="1048.1" x2="1554.3" y2="1053.9" stroke="#1c1a18" stroke-width="1.4"/>
<text x="1554.3" y="1079.5" font-family="'DejaVu Sans', 'Liberation Sans', sans-serif" font-size="24.3" text-anchor="middle" fill="#141210">2022-04</text>
<line x1="1677.9" y1="1048.1" x2="1677.9" y2="1053.9" stroke="#1c1a18" stroke-width="1.4"/>
<text x="1677.9" y="1079.5" font-family="'DejaVu Sans', 'Liberation Sans', sans-serif" font-size="24.3" text-anchor="middle" fill="#141210">2022-05</text>
<line x1="1805.7" y1="1048.1" x2="1805.7" y2="1053.9" stroke="#1c1a18" stroke-width="1.4"/>
<text x="1805.7" y="1079.5" font-family="'DejaVu Sans', 'Liberation Sans', sans-serif" font-size="24.3" text-anchor="middle" fill="#141210">2022-06</text>
<line x1="1929.4" y1="1048.1" x2="1929.4" y2="1053.9" stroke="#1c1a18" stroke-width="1.4"/>
<text x="1929.4" y="1079.5" font-family="'DejaVu Sans', 'Liberation Sans', sans-serif" font-size="24.3" text-anchor="middle" fill="#141210">2022-07</text>
<line x1="1141" y1="1030.5" x2="1146.8" y2="1030.5" stroke="#1c1a18" stroke-width="1.4"/>
<text x="1134.4" y="1040.2" font-family="'DejaVu Sans', 'Liberation Sans', sans-serif" font-size="24.3" text-anchor="end" fill="#141210">0</text>
<line x1="1141" y1="948.5" x2="1146.8" y2="948.5" stroke="#1c1a18" stroke-width="1.4"/>
<text x="1134.4" y="958.2" font-family="'DejaVu Sans', 'Liberation Sans', sans-serif" font-size="24.3" text-anchor="end" fill="#141210">1000</text>
<line x1="1141" y1="866.5" x2="1146.8" y2="866.5" stroke="#1c1a18" stroke-width="1.4"/>
<text x="1134.4" y="876.2" font-family="'DejaVu Sans', 'Liberation Sans', sans-serif" font-size="24.3" text-anchor="end" fill="#141210">2000</text>
<line x1="1141" y1="784.6" x2="1146.8" y2="784.6" stroke="#1c1a18" stroke-width="1.4"/>
<text x="1134.4" y="794.3" font-family="'DejaVu Sans', 'Liberation Sans', sans-serif" font-size="24.3" text-anchor="end" fill="#141210">3000</text>
<line x1="1141" y1="702.6" x2="1146.8" y2="702.6" stroke="#1c1a18" stroke-width="1.4"/>
<text x="1134.4" y="712.3" font-family="'DejaVu Sans', 'Liberation Sans', sans-serif" font-size="24.3" text-anchor="end" fill="#141210">4000</text>
<text x="1552.4" y="1113.8" font-family="'Liberation Sans', 'DejaVu Sans', sans-serif" font-size="31" text-anchor="middle" fill="#141210">Day</text>
<text transform="translate(1057.9,845.2) rotate(-90)" x="0" y="0" font-family="'Liberation Sans', 'DejaVu Sans', sans-serif" font-size="31" text-anchor="middle" fill="#141210">New cases</text>
<text x="1552.4" y="629.5" font-family="'Liberation Sans', 'DejaVu Sans', sans-serif" font-size="42" text-anchor="middle" fill="#141210">Fukuoka</text>
<text x="1443.6" y="969.5" font-family="'Liberation Sans', 'DejaVu Sans', sans-serif" font-size="33.7" text-anchor="start" fill="#d3a018" stroke="#d3a018" stroke-width="0.45">RMSD / person = 123</text>
<text x="1443.6" y="1010.1" font-family="'Liberation Sans', 'DejaVu Sans', sans-serif" font-size="33.7" text-anchor="start" fill="#d3a018" stroke="#d3a018" stroke-width="0.45">NRMSD = 0.0854</text>
<clipPath id="c0"><rect x="148" y="1260.2" width="1337.6" height="143.2"/></clipPath>
<rect x="148" y="1260.2" width="742.6" height="143.2" fill="#aeaaa7"/>
<rect x="890.6" y="1260.2" width="148.6" height="143.2" fill="#dcdbf5"/>
<rect x="1039.2" y="1260.2" width="446.4" height="143.2" fill="#fdd7de"/>
<line x1="157.3" y1="1260.2" x2="157.3" y2="1403.4" stroke="#c3c1bf" stroke-width="1.1"/>
<line x1="310.9" y1="1260.2" x2="310.9" y2="1403.4" stroke="#c3c1bf" stroke-width="1.1"/>
<line x1="449.6" y1="1260.2" x2="449.6" y2="1403.4" stroke="#c3c1bf" stroke-width="1.1"/>
<line x1="603.2" y1="1260.2" x2="603.2" y2="1403.4" stroke="#c3c1bf" stroke-width="1.1"/>
<line x1="751.9" y1="1260.2" x2="751.9" y2="1403.4" stroke="#c3c1bf" stroke-width="1.1"/>
<line x1="905.5" y1="1260.2" x2="905.5" y2="1403.4" stroke="#c3c1bf" stroke-width="1.1"/>
<line x1="1054.2" y1="1260.2" x2="1054.2" y2="1403.4" stroke="#c3c1bf" stroke-width="1.1"/>
<line x1="1207.8" y1="1260.2" x2="1207.8" y2="1403.4" stroke="#c3c1bf" stroke-width="1.1"/>
<line x1="1361.4" y1="1260.2" x2="1361.4" y2="1403.4" stroke="#c3c1bf" stroke-width="1.1"/>
<line x1="148" y1="1344.6" x2="1485.6" y2="1344.6" stroke="#c3c1bf" stroke-width="1.1"/>
<line x1="148" y1="1288.3" x2="1485.6" y2="1288.3" stroke="#c3c1bf" stroke-width="1.1"/>
<line x1="890.6" y1="1260.2" x2="890.6" y2="1403.4" stroke="#4a4a96" stroke-width="1.3"/>
<line x1="1039.2" y1="1260.2" x2="1039.2" y2="1403.4" stroke="#e890c8" stroke-width="1.1"/>
<polyline fill="none" stroke="#dc1a16" stroke-width="2.8" stroke-linejoin="round" stroke-linecap="butt" clip-path="url(#c0)" points="890.6,1392.3 900,1394.2 915,1395.5 946.7,1397 975,1397.4 1001.7,1397.1 1020,1396.5 1030,1395.8 1054.1,1393.4 1068.6,1391 1080.6,1389.3 1092.7,1384.9 1104.7,1378.9 1116.7,1371.7 1126.4,1363.3 1133.6,1356 1140.8,1347.6 1148.1,1339.6 1155.3,1335.5 1162.5,1329.5 1169.8,1322.3 1177,1312.7 1183,1304.2 1187.8,1296.3 1196.3,1290.5 1203.5,1278.9 1211.9,1268.1 1216.7,1266.9 1222.8,1268.1 1227.6,1266.4 1234.8,1270.5 1242,1272.9 1248.1,1278.9 1252.9,1281.3 1257.7,1288.6 1261.8,1297 1266.1,1299.4 1272.2,1306.6 1278.2,1310.2 1283,1313.9 1289,1319.9 1295.1,1323 1301.1,1323.5 1307.1,1321.1 1314.3,1323.5 1321.6,1324.2 1326.4,1321.1 1331.2,1317.5 1337.2,1317.5 1345.7,1320.4 1352.9,1325.9 1360.1,1334.3 1367.3,1342.8 1374.6,1351.2 1380.6,1363.3 1386.6,1371.7 1393.9,1377.7 1402.3,1382.5 1410.7,1386.1 1420.4,1384.9 1428.8,1381.3 1437.2,1377.7 1445.7,1375.3 1452.9,1375.3 1460.1,1374.8 1468.6,1376.5 1475.8,1378.9 1480.6,1382"/>
<polyline fill="none" stroke="#3847ae" stroke-width="2.8" stroke-linejoin="round" stroke-linecap="butt" clip-path="url(#c0)" points="890.6,1392.6 900,1394 915,1395.3 946.7,1396.8 975,1397.2 1001.7,1396.9 1020,1396.3 1030,1395.8 1054.1,1393.4 1068.6,1391 1080.6,1387.8 1092.7,1382.5 1104.7,1377.7 1116.7,1370.5 1126.4,1362.8 1133.6,1358 1138.4,1355.5 1143.3,1355.5 1148.1,1353.6 1155.3,1345.2 1162.5,1336.7 1168.6,1331.9 1173.4,1328.3 1178.2,1320.4 1186.6,1313.4 1196.3,1312.2 1203.5,1310.2 1213.1,1310.2 1218,1307.1 1222.8,1308.6 1227.6,1307.8 1234.8,1310.2 1242,1313.1 1249.3,1315.1 1256.5,1318 1262.5,1324.7 1267.3,1327.1 1272.2,1328.3 1277,1326.6 1284.2,1329.5 1291.4,1331.9 1297.5,1329 1307.1,1327.8 1311.9,1331.2 1316.7,1331.9 1325.2,1334.8 1331.2,1338.7 1338.4,1344 1345.7,1347.6 1352.9,1352.4 1361.3,1359.2 1367.3,1362 1377,1366.1 1386.6,1368.1 1396.3,1371.2 1408.3,1373.6 1420.4,1374.8 1430,1376.5 1439.6,1377.2 1449.3,1378.2 1458.9,1381.8 1468.6,1382 1475.8,1383 1480.6,1384.9"/>
<rect x="156.4" y="1268.4" width="182.4" height="60.2" rx="3.5" ry="3.5" fill="#ffffff" fill-opacity="0.8" stroke="#d8d8d8" stroke-opacity="0.8" stroke-width="1"/>
<line x1="162.8" y1="1283.3" x2="201.2" y2="1283.3" stroke="#dc1a16" stroke-width="2.8"/>
<line x1="162.8" y1="1310.3" x2="201.2" y2="1310.3" stroke="#3847ae" stroke-width="2.8"/>
<text x="214" y="1290" font-family="'DejaVu Sans', 'Liberation Sans', sans-serif" font-size="18" text-anchor="start" fill="#141210">Prediction</text>
<text x="214" y="1316.9" font-family="'DejaVu Sans', 'Liberation Sans', sans-serif" font-size="18" text-anchor="start" fill="#141210">Ground truth</text>
<rect x="148" y="1260.2" width="1337.6" height="143.2" fill="none" stroke="#1e1b18" stroke-width="1.7"/>
<line x1="157.3" y1="1403.4" x2="157.3" y2="1409.6" stroke="#1e1b18" stroke-width="1.3"/>
<text transform="translate(156.7,1442) rotate(-30)" x="0" y="6.6" font-family="'DejaVu Sans', 'Liberation Sans', sans-serif" font-size="18" text-anchor="middle" fill="#141210">2022-01</text>
<line x1="310.9" y1="1403.4" x2="310.9" y2="1409.6" stroke="#1e1b18" stroke-width="1.3"/>
<text transform="translate(310.3,1442) rotate(-30)" x="0" y="6.6" font-family="'DejaVu Sans', 'Liberation Sans', sans-serif" font-size="18" text-anchor="middle" fill="#141210">2022-02</text>
<line x1="449.6" y1="1403.4" x2="449.6" y2="1409.6" stroke="#1e1b18" stroke-width="1.3"/>
<text transform="translate(449,1442) rotate(-30)" x="0" y="6.6" font-family="'DejaVu Sans', 'Liberation Sans', sans-serif" font-size="18" text-anchor="middle" fill="#141210">2022-03</text>
<line x1="603.2" y1="1403.4" x2="603.2" y2="1409.6" stroke="#1e1b18" stroke-width="1.3"/>
<text transform="translate(602.6,1442) rotate(-30)" x="0" y="6.6" font-family="'DejaVu Sans', 'Liberation Sans', sans-serif" font-size="18" text-anchor="middle" fill="#141210">2022-04</text>
<line x1="751.9" y1="1403.4" x2="751.9" y2="1409.6" stroke="#1e1b18" stroke-width="1.3"/>
<text transform="translate(751.3,1442) rotate(-30)" x="0" y="6.6" font-family="'DejaVu Sans', 'Liberation Sans', sans-serif" font-size="18" text-anchor="middle" fill="#141210">2022-05</text>
<line x1="905.5" y1="1403.4" x2="905.5" y2="1409.6" stroke="#1e1b18" stroke-width="1.3"/>
<text transform="translate(904.9,1442) rotate(-30)" x="0" y="6.6" font-family="'DejaVu Sans', 'Liberation Sans', sans-serif" font-size="18" text-anchor="middle" fill="#141210">2022-06</text>
<line x1="1054.2" y1="1403.4" x2="1054.2" y2="1409.6" stroke="#1e1b18" stroke-width="1.3"/>
<text transform="translate(1053.6,1442) rotate(-30)" x="0" y="6.6" font-family="'DejaVu Sans', 'Liberation Sans', sans-serif" font-size="18" text-anchor="middle" fill="#141210">2022-07</text>
<line x1="1207.8" y1="1403.4" x2="1207.8" y2="1409.6" stroke="#1e1b18" stroke-width="1.3"/>
<text transform="translate(1207.2,1442) rotate(-30)" x="0" y="6.6" font-family="'DejaVu Sans', 'Liberation Sans', sans-serif" font-size="18" text-anchor="middle" fill="#141210">2022-08</text>
<line x1="1361.4" y1="1403.4" x2="1361.4" y2="1409.6" stroke="#1e1b18" stroke-width="1.3"/>
<text transform="translate(1360.8,1442) rotate(-30)" x="0" y="6.6" font-family="'DejaVu Sans', 'Liberation Sans', sans-serif" font-size="18" text-anchor="middle" fill="#141210">2022-09</text>
<line x1="141.8" y1="1400.9" x2="148" y2="1400.9" stroke="#1e1b18" stroke-width="1.3"/>
<text x="133.8" y="1407.5" font-family="'DejaVu Sans', 'Liberation Sans', sans-serif" font-size="18" text-anchor="end" fill="#141210">0</text>
<line x1="141.8" y1="1344.6" x2="148" y2="1344.6" stroke="#1e1b18" stroke-width="1.3"/>
<text x="133.8" y="1351.2" font-family="'DejaVu Sans', 'Liberation Sans', sans-serif" font-size="18" text-anchor="end" fill="#141210">20000</text>
<line x1="141.8" y1="1288.3" x2="148" y2="1288.3" stroke="#1e1b18" stroke-width="1.3"/>
<text x="133.8" y="1294.9" font-family="'DejaVu Sans', 'Liberation Sans', sans-serif" font-size="18" text-anchor="end" fill="#141210">40000</text>
<text transform="translate(66.2,1331.8) rotate(-90)" x="0" y="0" font-family="'DejaVu Sans', 'Liberation Sans', sans-serif" font-size="18" text-anchor="middle" fill="#141210">Number of PC</text>
<clipPath id="c1"><rect x="1562.6" y="1260.2" width="394" height="143.1"/></clipPath>
<rect x="1562.6" y="1260.2" width="394" height="143.1" fill="#fdd7de"/>
<line x1="1575.6" y1="1260.2" x2="1575.6" y2="1403.3" stroke="#c3c1bf" stroke-width="1.1"/>
<line x1="1636.9" y1="1260.2" x2="1636.9" y2="1403.3" stroke="#c3c1bf" stroke-width="1.1"/>
<line x1="1711.3" y1="1260.2" x2="1711.3" y2="1403.3" stroke="#c3c1bf" stroke-width="1.1"/>
<line x1="1772.6" y1="1260.2" x2="1772.6" y2="1403.3" stroke="#c3c1bf" stroke-width="1.1"/>
<line x1="1847" y1="1260.2" x2="1847" y2="1403.3" stroke="#c3c1bf" stroke-width="1.1"/>
<line x1="1908.3" y1="1260.2" x2="1908.3" y2="1403.3" stroke="#c3c1bf" stroke-width="1.1"/>
<line x1="1562.6" y1="1391.3" x2="1956.6" y2="1391.3" stroke="#c3c1bf" stroke-width="1.1"/>
<line x1="1562.6" y1="1343.3" x2="1956.6" y2="1343.3" stroke="#c3c1bf" stroke-width="1.1"/>
<line x1="1562.6" y1="1295.4" x2="1956.6" y2="1295.4" stroke="#c3c1bf" stroke-width="1.1"/>
<polyline fill="none" stroke="#12982a" stroke-width="2.6" stroke-linejoin="round" stroke-linecap="butt" clip-path="url(#c1)" points="1562.9,1391.5 1569.9,1390 1576.3,1389 1584.1,1389 1593.1,1391.3 1597,1385.6 1601.3,1376.6 1606,1371.4 1610.6,1366.3 1615,1365.8 1618.9,1379.2 1623.5,1384.3 1627.9,1380.5 1632.3,1383.6 1636.9,1382.3 1641.3,1386.4 1645.4,1379.2 1649.8,1353.4 1653.7,1317.3 1656.2,1286.4 1658.8,1265.8 1662.2,1281.2 1665.3,1304.4 1667.3,1317.3 1671.7,1317.3 1676.1,1316 1680.7,1303.1 1685.1,1316 1689,1295.4 1692.3,1265.8 1694.9,1224.5 1699.3,1188.5"/>
<polyline fill="none" stroke="#12982a" stroke-width="2.6" stroke-linejoin="round" stroke-linecap="butt" clip-path="url(#c1)" points="1773.5,1188.5 1776.6,1240 1778.1,1260.1 1781.7,1281.2 1785.9,1296.7 1789.5,1345.7 1794.6,1352.6 1798.8,1337.9 1803.1,1323.8 1807.5,1328.9 1811.6,1317.3 1815.3,1286.4 1817.3,1260.1 1819.4,1229.7 1822.5,1188.5"/>
<polyline fill="none" stroke="#12982a" stroke-width="2.6" stroke-linejoin="round" stroke-linecap="butt" clip-path="url(#c1)" points="1852.1,1188.5 1854.7,1234.8 1856.5,1260.1 1858.5,1281.2 1860.6,1294.1 1864.2,1363.7 1868.9,1372.2 1871.4,1348.2 1874,1328.9 1877.9,1317.3 1882.3,1301.9 1886.9,1295.4 1890.8,1285.1 1895.1,1295.4 1899.8,1305.7 1903.7,1327.6 1907.5,1348.2 1912.2,1381.7 1916.5,1383 1920.9,1372.7 1925.6,1370.2 1930.7,1347 1934.6,1335.9 1939,1345.7 1943.6,1349.5 1948.2,1354.7 1952.6,1368.9"/>
<rect x="1571.2" y="1268.8" width="109" height="31.2" rx="3.5" ry="3.5" fill="#ffffff" fill-opacity="0.8" stroke="#d8d8d8" stroke-opacity="0.8" stroke-width="1"/>
<line x1="1577.6" y1="1283.4" x2="1615.6" y2="1283.4" stroke="#12982a" stroke-width="2.8"/>
<text x="1629" y="1289.4" font-family="'DejaVu Sans', 'Liberation Sans', sans-serif" font-size="18" text-anchor="start" fill="#141210">Error</text>
<rect x="1562.6" y="1260.2" width="394" height="143.1" fill="none" stroke="#1e1b18" stroke-width="1.7"/>
<line x1="1575.6" y1="1403.3" x2="1575.6" y2="1409.5" stroke="#1e1b18" stroke-width="1.3"/>
<text transform="translate(1574.4,1450.3) rotate(-30)" x="0" y="6.6" font-family="'DejaVu Sans', 'Liberation Sans', sans-serif" font-size="18" text-anchor="middle" fill="#141210">2022-07-01</text>
<line x1="1636.9" y1="1403.3" x2="1636.9" y2="1409.5" stroke="#1e1b18" stroke-width="1.3"/>
<text transform="translate(1635.7,1450.3) rotate(-30)" x="0" y="6.6" font-family="'DejaVu Sans', 'Liberation Sans', sans-serif" font-size="18" text-anchor="middle" fill="#141210">2022-07-15</text>
<line x1="1711.3" y1="1403.3" x2="1711.3" y2="1409.5" stroke="#1e1b18" stroke-width="1.3"/>
<text transform="translate(1710.1,1450.3) rotate(-30)" x="0" y="6.6" font-family="'DejaVu Sans', 'Liberation Sans', sans-serif" font-size="18" text-anchor="middle" fill="#141210">2022-08-01</text>
<line x1="1772.6" y1="1403.3" x2="1772.6" y2="1409.5" stroke="#1e1b18" stroke-width="1.3"/>
<text transform="translate(1771.4,1450.3) rotate(-30)" x="0" y="6.6" font-family="'DejaVu Sans', 'Liberation Sans', sans-serif" font-size="18" text-anchor="middle" fill="#141210">2022-08-15</text>
<line x1="1847" y1="1403.3" x2="1847" y2="1409.5" stroke="#1e1b18" stroke-width="1.3"/>
<text transform="translate(1845.8,1450.3) rotate(-30)" x="0" y="6.6" font-family="'DejaVu Sans', 'Liberation Sans', sans-serif" font-size="18" text-anchor="middle" fill="#141210">2022-09-01</text>
<line x1="1908.3" y1="1403.3" x2="1908.3" y2="1409.5" stroke="#1e1b18" stroke-width="1.3"/>
<text transform="translate(1907.1,1450.3) rotate(-30)" x="0" y="6.6" font-family="'DejaVu Sans', 'Liberation Sans', sans-serif" font-size="18" text-anchor="middle" fill="#141210">2022-09-15</text>
<line x1="1556.4" y1="1391.3" x2="1562.6" y2="1391.3" stroke="#1e1b18" stroke-width="1.3"/>
<text x="1549.5" y="1397.9" font-family="'DejaVu Sans', 'Liberation Sans', sans-serif" font-size="18" text-anchor="end" fill="#141210">0</text>
<line x1="1556.4" y1="1343.3" x2="1562.6" y2="1343.3" stroke="#1e1b18" stroke-width="1.3"/>
<text x="1549.5" y="1349.9" font-family="'DejaVu Sans', 'Liberation Sans', sans-serif" font-size="18" text-anchor="end" fill="#141210">2000</text>
<line x1="1556.4" y1="1295.4" x2="1562.6" y2="1295.4" stroke="#1e1b18" stroke-width="1.3"/>
<text x="1549.5" y="1302" font-family="'DejaVu Sans', 'Liberation Sans', sans-serif" font-size="18" text-anchor="end" fill="#141210">4000</text>
<clipPath id="c2"><rect x="148" y="1504.2" width="1337.6" height="144.7"/></clipPath>
<rect x="148" y="1504.2" width="594.2" height="144.7" fill="#aeaaa7"/>
<rect x="742.2" y="1504.2" width="297" height="144.7" fill="#dcdbf5"/>
<rect x="1039.2" y="1504.2" width="446.4" height="144.7" fill="#fdd7de"/>
<line x1="157.3" y1="1504.2" x2="157.3" y2="1648.9" stroke="#c3c1bf" stroke-width="1.1"/>
<line x1="310.9" y1="1504.2" x2="310.9" y2="1648.9" stroke="#c3c1bf" stroke-width="1.1"/>
<line x1="449.6" y1="1504.2" x2="449.6" y2="1648.9" stroke="#c3c1bf" stroke-width="1.1"/>
<line x1="603.2" y1="1504.2" x2="603.2" y2="1648.9" stroke="#c3c1bf" stroke-width="1.1"/>
<line x1="751.9" y1="1504.2" x2="751.9" y2="1648.9" stroke="#c3c1bf" stroke-width="1.1"/>
<line x1="905.5" y1="1504.2" x2="905.5" y2="1648.9" stroke="#c3c1bf" stroke-width="1.1"/>
<line x1="1054.2" y1="1504.2" x2="1054.2" y2="1648.9" stroke="#c3c1bf" stroke-width="1.1"/>
<line x1="1207.8" y1="1504.2" x2="1207.8" y2="1648.9" stroke="#c3c1bf" stroke-width="1.1"/>
<line x1="1361.4" y1="1504.2" x2="1361.4" y2="1648.9" stroke="#c3c1bf" stroke-width="1.1"/>
<line x1="148" y1="1606.8" x2="1485.6" y2="1606.8" stroke="#c3c1bf" stroke-width="1.1"/>
<line x1="148" y1="1565.7" x2="1485.6" y2="1565.7" stroke="#c3c1bf" stroke-width="1.1"/>
<line x1="148" y1="1524.5" x2="1485.6" y2="1524.5" stroke="#c3c1bf" stroke-width="1.1"/>
<line x1="742.2" y1="1504.2" x2="742.2" y2="1648.9" stroke="#4a4a96" stroke-width="1.3"/>
<line x1="1039.2" y1="1504.2" x2="1039.2" y2="1648.9" stroke="#e890c8" stroke-width="1.1"/>
<polyline fill="none" stroke="#dc1a16" stroke-width="2.8" stroke-linejoin="round" stroke-linecap="butt" clip-path="url(#c2)" points="741,1629 748.2,1631.4 757.8,1632.1 767.5,1635 775.9,1637.4 784.3,1635.7 796.4,1635 810.8,1631.4 825.3,1633.1 839.8,1633.8 854.2,1634 868.7,1635 883.1,1636.4 897.6,1638.6 912,1640.3 926.5,1641.2 941,1641.7 960.2,1642.4 984.3,1642.4 1003.6,1642 1020.5,1641.2 1030,1640.6 1044.5,1638.7 1054.1,1637 1063.7,1635.3 1073.4,1633.9 1080.6,1631.4 1090.2,1624.9 1099.9,1618.9 1104.7,1616.5 1109.5,1615.3 1116.7,1608.1 1124,1600.8 1131.2,1593.6 1138.4,1586.9 1143.3,1586.4 1147.6,1590 1152.4,1584 1157.7,1573.1 1164.9,1562.3 1169.8,1557.5 1174.6,1552.7 1178.2,1545.4 1182.3,1533.4 1187.1,1538.2 1191.9,1531 1197.5,1534.6 1202.3,1532.2 1207.8,1527.3 1212.4,1536.3 1217.5,1528.6 1222.3,1525.7 1227.6,1532.2 1232.4,1526.9 1237.7,1533.4 1243.3,1532.9 1247.6,1534.6 1252.2,1540.6 1257,1535.1 1261.3,1543 1266.6,1555.5 1271.7,1551.4 1277,1556.3 1281.8,1547.1 1286.6,1558.2 1291.4,1558.2 1296.3,1553.1 1302.3,1553.1 1307.1,1549.8 1311.9,1553.9 1316.7,1556.3 1321.6,1553.1 1327.6,1558.2 1334.8,1564.7 1341.3,1571.4 1346.9,1570 1351.7,1578 1357.7,1581.6 1363.7,1587.6 1371,1588.8 1377,1595.3 1385.4,1595.3 1390.2,1600.8 1396.3,1600.1 1403.5,1603.3 1410.7,1603.3 1415.5,1608.1 1420.4,1606.1 1430,1609.3 1439.6,1609.3 1450.5,1611.2 1458.9,1614.8 1466.1,1616.5 1473.4,1616.5 1480.6,1622.5"/>
<polyline fill="none" stroke="#3847ae" stroke-width="2.8" stroke-linejoin="round" stroke-linecap="butt" clip-path="url(#c2)" points="741,1628.6 748.2,1631 757.8,1631.7 767.5,1634.6 775.9,1637 784.3,1635.3 796.4,1634.6 810.8,1631 825.3,1632.7 839.8,1633.4 854.2,1633.6 868.7,1634.6 883.1,1636 897.6,1638.2 912,1639.9 926.5,1640.8 941,1641.3 960.2,1642 984.3,1642 1003.6,1641.6 1020.5,1640.8 1030,1639.9 1044.5,1637.7 1054.1,1636 1063.7,1634.1 1073.4,1632.2 1080.6,1627.8 1090.2,1622 1099.9,1615.8 1107.1,1611.7 1114.3,1605.2 1121.6,1597.2 1128.8,1588.8 1136,1581.6 1142,1581.6 1148.1,1579.2 1152.9,1570.7 1158.9,1559.9 1164.9,1550.2 1172.2,1541.1 1177,1531 1181.8,1524.9 1187.8,1518.9 1196.3,1517.7 1203.5,1514.8 1213.1,1515.3 1217.5,1510.5 1222.8,1513.4 1227.6,1512.9 1234.8,1516 1242,1519.6 1248.1,1521.3 1256.5,1525.7 1261.8,1535.8 1267.3,1540.6 1272.2,1542.3 1277,1539.4 1284.2,1544.2 1291.4,1547.8 1296.3,1543.5 1307.1,1541.3 1311.9,1545.9 1318,1547.8 1326.4,1552.7 1333.6,1559.9 1340.8,1567.1 1348.1,1571.9 1355.3,1580.4 1362.5,1586.9 1369.8,1591.2 1377,1596 1386.6,1600.1 1396.3,1603.7 1405.9,1606.9 1415.5,1608.8 1425.2,1611.2 1434.8,1612.9 1444.5,1614.1 1451.7,1614.8 1458.9,1619.4 1468.6,1619.6 1475.8,1622.5 1480.6,1624"/>
<rect x="156.4" y="1513" width="182.4" height="60.2" rx="3.5" ry="3.5" fill="#ffffff" fill-opacity="0.8" stroke="#d8d8d8" stroke-opacity="0.8" stroke-width="1"/>
<line x1="162.8" y1="1527.9" x2="201.2" y2="1527.9" stroke="#dc1a16" stroke-width="2.8"/>
<line x1="162.8" y1="1554.9" x2="201.2" y2="1554.9" stroke="#3847ae" stroke-width="2.8"/>
<text x="214" y="1534.6" font-family="'DejaVu Sans', 'Liberation Sans', sans-serif" font-size="18" text-anchor="start" fill="#141210">Prediction</text>
<text x="214" y="1561.5" font-family="'DejaVu Sans', 'Liberation Sans', sans-serif" font-size="18" text-anchor="start" fill="#141210">Ground truth</text>
<rect x="148" y="1504.2" width="1337.6" height="144.7" fill="none" stroke="#1e1b18" stroke-width="1.7"/>
<line x1="157.3" y1="1648.9" x2="157.3" y2="1655.1" stroke="#1e1b18" stroke-width="1.3"/>
<text transform="translate(156.7,1686.8) rotate(-30)" x="0" y="6.6" font-family="'DejaVu Sans', 'Liberation Sans', sans-serif" font-size="18" text-anchor="middle" fill="#141210">2022-01</text>
<line x1="310.9" y1="1648.9" x2="310.9" y2="1655.1" stroke="#1e1b18" stroke-width="1.3"/>
<text transform="translate(310.3,1686.8) rotate(-30)" x="0" y="6.6" font-family="'DejaVu Sans', 'Liberation Sans', sans-serif" font-size="18" text-anchor="middle" fill="#141210">2022-02</text>
<line x1="449.6" y1="1648.9" x2="449.6" y2="1655.1" stroke="#1e1b18" stroke-width="1.3"/>
<text transform="translate(449,1686.8) rotate(-30)" x="0" y="6.6" font-family="'DejaVu Sans', 'Liberation Sans', sans-serif" font-size="18" text-anchor="middle" fill="#141210">2022-03</text>
<line x1="603.2" y1="1648.9" x2="603.2" y2="1655.1" stroke="#1e1b18" stroke-width="1.3"/>
<text transform="translate(602.6,1686.8) rotate(-30)" x="0" y="6.6" font-family="'DejaVu Sans', 'Liberation Sans', sans-serif" font-size="18" text-anchor="middle" fill="#141210">2022-04</text>
<line x1="751.9" y1="1648.9" x2="751.9" y2="1655.1" stroke="#1e1b18" stroke-width="1.3"/>
<text transform="translate(751.3,1686.8) rotate(-30)" x="0" y="6.6" font-family="'DejaVu Sans', 'Liberation Sans', sans-serif" font-size="18" text-anchor="middle" fill="#141210">2022-05</text>
<line x1="905.5" y1="1648.9" x2="905.5" y2="1655.1" stroke="#1e1b18" stroke-width="1.3"/>
<text transform="translate(904.9,1686.8) rotate(-30)" x="0" y="6.6" font-family="'DejaVu Sans', 'Liberation Sans', sans-serif" font-size="18" text-anchor="middle" fill="#141210">2022-06</text>
<line x1="1054.2" y1="1648.9" x2="1054.2" y2="1655.1" stroke="#1e1b18" stroke-width="1.3"/>
<text transform="translate(1053.6,1686.8) rotate(-30)" x="0" y="6.6" font-family="'DejaVu Sans', 'Liberation Sans', sans-serif" font-size="18" text-anchor="middle" fill="#141210">2022-07</text>
<line x1="1207.8" y1="1648.9" x2="1207.8" y2="1655.1" stroke="#1e1b18" stroke-width="1.3"/>
<text transform="translate(1207.2,1686.8) rotate(-30)" x="0" y="6.6" font-family="'DejaVu Sans', 'Liberation Sans', sans-serif" font-size="18" text-anchor="middle" fill="#141210">2022-08</text>
<line x1="1361.4" y1="1648.9" x2="1361.4" y2="1655.1" stroke="#1e1b18" stroke-width="1.3"/>
<text transform="translate(1360.8,1686.8) rotate(-30)" x="0" y="6.6" font-family="'DejaVu Sans', 'Liberation Sans', sans-serif" font-size="18" text-anchor="middle" fill="#141210">2022-09</text>
<line x1="141.8" y1="1648" x2="148" y2="1648" stroke="#1e1b18" stroke-width="1.3"/>
<text x="133.8" y="1654.6" font-family="'DejaVu Sans', 'Liberation Sans', sans-serif" font-size="18" text-anchor="end" fill="#141210">0</text>
<line x1="141.8" y1="1606.8" x2="148" y2="1606.8" stroke="#1e1b18" stroke-width="1.3"/>
<text x="133.8" y="1613.4" font-family="'DejaVu Sans', 'Liberation Sans', sans-serif" font-size="18" text-anchor="end" fill="#141210">10000</text>
<line x1="141.8" y1="1565.7" x2="148" y2="1565.7" stroke="#1e1b18" stroke-width="1.3"/>
<text x="133.8" y="1572.3" font-family="'DejaVu Sans', 'Liberation Sans', sans-serif" font-size="18" text-anchor="end" fill="#141210">20000</text>
<line x1="141.8" y1="1524.5" x2="148" y2="1524.5" stroke="#1e1b18" stroke-width="1.3"/>
<text x="133.8" y="1531.1" font-family="'DejaVu Sans', 'Liberation Sans', sans-serif" font-size="18" text-anchor="end" fill="#141210">30000</text>
<text transform="translate(66.2,1576.6) rotate(-90)" x="0" y="0" font-family="'DejaVu Sans', 'Liberation Sans', sans-serif" font-size="18" text-anchor="middle" fill="#141210">Number of PC</text>
<clipPath id="c3"><rect x="1562.6" y="1504.2" width="394" height="144.7"/></clipPath>
<rect x="1562.6" y="1504.2" width="394" height="144.7" fill="#fdd7de"/>
<line x1="1575.6" y1="1504.2" x2="1575.6" y2="1648.9" stroke="#c3c1bf" stroke-width="1.1"/>
<line x1="1636.9" y1="1504.2" x2="1636.9" y2="1648.9" stroke="#c3c1bf" stroke-width="1.1"/>
<line x1="1711.3" y1="1504.2" x2="1711.3" y2="1648.9" stroke="#c3c1bf" stroke-width="1.1"/>
<line x1="1772.6" y1="1504.2" x2="1772.6" y2="1648.9" stroke="#c3c1bf" stroke-width="1.1"/>
<line x1="1847" y1="1504.2" x2="1847" y2="1648.9" stroke="#c3c1bf" stroke-width="1.1"/>
<line x1="1908.3" y1="1504.2" x2="1908.3" y2="1648.9" stroke="#c3c1bf" stroke-width="1.1"/>
<line x1="1562.6" y1="1636.2" x2="1956.6" y2="1636.2" stroke="#c3c1bf" stroke-width="1.1"/>
<line x1="1562.6" y1="1588.4" x2="1956.6" y2="1588.4" stroke="#c3c1bf" stroke-width="1.1"/>
<line x1="1562.6" y1="1540.6" x2="1956.6" y2="1540.6" stroke="#c3c1bf" stroke-width="1.1"/>
<polyline fill="none" stroke="#12982a" stroke-width="2.6" stroke-linejoin="round" stroke-linecap="butt" clip-path="url(#c3)" points="1562.9,1632.8 1567.3,1633.3 1571.7,1632.1 1575.8,1631 1579.7,1632.6 1584.1,1628.2 1588.5,1630.8 1593.1,1625.1 1597.2,1619.2 1601.6,1622.3 1606,1617.1 1610.4,1615.6 1614.7,1613.5 1618.9,1619.9 1623.2,1605 1627.9,1598 1632.3,1602.4 1636.6,1589.5 1641,1593.4 1645.4,1588.8 1649.8,1599.1 1654.2,1610.2 1658.6,1572.3 1662.9,1554.7 1667.3,1565 1671.7,1560.7 1676.1,1562 1680.5,1556 1684.8,1532.1 1689.2,1584.9 1693.6,1519.4 1698,1562 1702.4,1540.1 1706.7,1539.8 1711.1,1568.9 1715.5,1516.9 1719.9,1534.1 1724.3,1568.9 1728.7,1519.9 1733,1562 1737.4,1543.1 1741.8,1561.2 1746.2,1561.2 1750.6,1534.9 1754.9,1581.3 1759.3,1590.8 1763.7,1544.9 1768.1,1583.1 1772.5,1536.7 1776.8,1614.8 1781.2,1561.7 1785.6,1576.6 1790,1583.6 1794.4,1574.1 1798.8,1587.7 1803.1,1590.3 1807.5,1581 1811.9,1613.5 1816.3,1601.1 1820.7,1613.5 1825,1614.8 1829.4,1611.4 1833.8,1630.3 1838.2,1618.4 1842.6,1631.5 1847,1635.9 1851.3,1633.3 1855.7,1617.9 1860.1,1632.1 1864.5,1629.5 1868.9,1610.7 1873.2,1635.9 1877.6,1614 1882,1622.5 1886.4,1623 1890.8,1612.2 1895.1,1633.3 1899.5,1615.8 1903.9,1619.2 1908.3,1624.3 1912.7,1619.9 1917.1,1613.5 1921.4,1619.2 1925.8,1619.9 1930.2,1616.6 1934.6,1613.2 1939,1619.2 1943.3,1615.3 1947.7,1608.9 1952.1,1632.1"/>
<rect x="1571.2" y="1513.4" width="109" height="31.2" rx="3.5" ry="3.5" fill="#ffffff" fill-opacity="0.8" stroke="#d8d8d8" stroke-opacity="0.8" stroke-width="1"/>
<line x1="1577.6" y1="1528" x2="1615.6" y2="1528" stroke="#12982a" stroke-width="2.8"/>
<text x="1629" y="1534" font-family="'DejaVu Sans', 'Liberation Sans', sans-serif" font-size="18" text-anchor="start" fill="#141210">Error</text>
<rect x="1562.6" y="1504.2" width="394" height="144.7" fill="none" stroke="#1e1b18" stroke-width="1.7"/>
<line x1="1575.6" y1="1648.9" x2="1575.6" y2="1655.1" stroke="#1e1b18" stroke-width="1.3"/>
<text transform="translate(1574.4,1695) rotate(-30)" x="0" y="6.6" font-family="'DejaVu Sans', 'Liberation Sans', sans-serif" font-size="18" text-anchor="middle" fill="#141210">2022-07-01</text>
<line x1="1636.9" y1="1648.9" x2="1636.9" y2="1655.1" stroke="#1e1b18" stroke-width="1.3"/>
<text transform="translate(1635.7,1695) rotate(-30)" x="0" y="6.6" font-family="'DejaVu Sans', 'Liberation Sans', sans-serif" font-size="18" text-anchor="middle" fill="#141210">2022-07-15</text>
<line x1="1711.3" y1="1648.9" x2="1711.3" y2="1655.1" stroke="#1e1b18" stroke-width="1.3"/>
<text transform="translate(1710.1,1695) rotate(-30)" x="0" y="6.6" font-family="'DejaVu Sans', 'Liberation Sans', sans-serif" font-size="18" text-anchor="middle" fill="#141210">2022-08-01</text>
<line x1="1772.6" y1="1648.9" x2="1772.6" y2="1655.1" stroke="#1e1b18" stroke-width="1.3"/>
<text transform="translate(1771.4,1695) rotate(-30)" x="0" y="6.6" font-family="'DejaVu Sans', 'Liberation Sans', sans-serif" font-size="18" text-anchor="middle" fill="#141210">2022-08-15</text>
<line x1="1847" y1="1648.9" x2="1847" y2="1655.1" stroke="#1e1b18" stroke-width="1.3"/>
<text transform="translate(1845.8,1695) rotate(-30)" x="0" y="6.6" font-family="'DejaVu Sans', 'Liberation Sans', sans-serif" font-size="18" text-anchor="middle" fill="#141210">2022-09-01</text>
<line x1="1908.3" y1="1648.9" x2="1908.3" y2="1655.1" stroke="#1e1b18" stroke-width="1.3"/>
<text transform="translate(1907.1,1695) rotate(-30)" x="0" y="6.6" font-family="'DejaVu Sans', 'Liberation Sans', sans-serif" font-size="18" text-anchor="middle" fill="#141210">2022-09-15</text>
<line x1="1556.4" y1="1636.2" x2="1562.6" y2="1636.2" stroke="#1e1b18" stroke-width="1.3"/>
<text x="1549.5" y="1642.8" font-family="'DejaVu Sans', 'Liberation Sans', sans-serif" font-size="18" text-anchor="end" fill="#141210">0</text>
<line x1="1556.4" y1="1588.4" x2="1562.6" y2="1588.4" stroke="#1e1b18" stroke-width="1.3"/>
<text x="1549.5" y="1595" font-family="'DejaVu Sans', 'Liberation Sans', sans-serif" font-size="18" text-anchor="end" fill="#141210">2000</text>
<line x1="1556.4" y1="1540.6" x2="1562.6" y2="1540.6" stroke="#1e1b18" stroke-width="1.3"/>
<text x="1549.5" y="1547.2" font-family="'DejaVu Sans', 'Liberation Sans', sans-serif" font-size="18" text-anchor="end" fill="#141210">4000</text>
<clipPath id="c4"><rect x="148" y="1748.9" width="1337.6" height="144.3"/></clipPath>
<rect x="148" y="1748.9" width="297.1" height="144.3" fill="#aeaaa7"/>
<rect x="445.1" y="1748.9" width="594.1" height="144.3" fill="#dcdbf5"/>
<rect x="1039.2" y="1748.9" width="446.4" height="144.3" fill="#fdd7de"/>
<line x1="157.3" y1="1748.9" x2="157.3" y2="1893.2" stroke="#c3c1bf" stroke-width="1.1"/>
<line x1="310.9" y1="1748.9" x2="310.9" y2="1893.2" stroke="#c3c1bf" stroke-width="1.1"/>
<line x1="449.6" y1="1748.9" x2="449.6" y2="1893.2" stroke="#c3c1bf" stroke-width="1.1"/>
<line x1="603.2" y1="1748.9" x2="603.2" y2="1893.2" stroke="#c3c1bf" stroke-width="1.1"/>
<line x1="751.9" y1="1748.9" x2="751.9" y2="1893.2" stroke="#c3c1bf" stroke-width="1.1"/>
<line x1="905.5" y1="1748.9" x2="905.5" y2="1893.2" stroke="#c3c1bf" stroke-width="1.1"/>
<line x1="1054.2" y1="1748.9" x2="1054.2" y2="1893.2" stroke="#c3c1bf" stroke-width="1.1"/>
<line x1="1207.8" y1="1748.9" x2="1207.8" y2="1893.2" stroke="#c3c1bf" stroke-width="1.1"/>
<line x1="1361.4" y1="1748.9" x2="1361.4" y2="1893.2" stroke="#c3c1bf" stroke-width="1.1"/>
<line x1="148" y1="1851.5" x2="1485.6" y2="1851.5" stroke="#c3c1bf" stroke-width="1.1"/>
<line x1="148" y1="1810.3" x2="1485.6" y2="1810.3" stroke="#c3c1bf" stroke-width="1.1"/>
<line x1="148" y1="1769.2" x2="1485.6" y2="1769.2" stroke="#c3c1bf" stroke-width="1.1"/>
<line x1="445.1" y1="1748.9" x2="445.1" y2="1893.2" stroke="#4a4a96" stroke-width="1.3"/>
<line x1="1039.2" y1="1748.9" x2="1039.2" y2="1893.2" stroke="#e890c8" stroke-width="1.1"/>
<polyline fill="none" stroke="#dc1a16" stroke-width="2.8" stroke-linejoin="round" stroke-linecap="butt" clip-path="url(#c4)" points="444,1848.5 451.3,1848.8 455,1850.7 460.5,1847.4 466,1848.8 473.3,1851.8 484.3,1854.3 495.3,1857.6 506.3,1859.1 517.3,1859.5 528.3,1860.9 539.3,1862.4 548.5,1863.9 554,1867.2 559.5,1868.6 568.7,1867.5 583.3,1866.4 588.8,1862.4 598,1861.7 612.7,1861.7 627.3,1862.4 642,1861.7 660.3,1861.3 675,1863.5 686,1866.1 697,1869 711.7,1870.5 726.3,1871.2 737.3,1872.7 752,1876.3 763,1877.8 770.4,1880.4 777,1881.8 783.2,1880.4 794.2,1879.3 803.4,1877.1 812.5,1875.6 821.7,1876.7 840,1877.8 858.4,1878.2 876.7,1879.6 895,1881.8 913.4,1884 931.7,1885.1 950,1886.2 968.4,1886.6 986.7,1886.6 1005,1886.2 1023.4,1885.1 1030,1884.9 1054.1,1881.3 1073.4,1877.7 1080.6,1876.4 1090.2,1869.5 1099.9,1862.7 1107.1,1858.4 1113.1,1855.5 1121.6,1846.3 1128.8,1837.4 1136,1829 1143.3,1824.6 1148.1,1827 1153.4,1824.6 1158.9,1812.1 1164.9,1801.3 1172.2,1789.2 1178.2,1777.2 1184.2,1769.9 1187.8,1769.9 1193.9,1766.3 1199.9,1765.1 1207.1,1761.5 1211.9,1764.4 1216.7,1762 1221.6,1758.6 1227.6,1759.8 1234.8,1761 1242,1766.3 1248.1,1769.9 1254.1,1771.6 1257.7,1773.6 1262.5,1780.8 1267.3,1788 1272.2,1792.1 1278.2,1792.1 1281.8,1789.2 1286.6,1792.8 1292.7,1792.8 1297.5,1791.6 1302.3,1789.2 1307.1,1789.9 1313.1,1792.8 1319.2,1795.2 1326.4,1797.2 1333.6,1806.1 1340.8,1812.6 1346.9,1814 1354.1,1821.3 1361.3,1830.9 1369.8,1837.4 1377,1840.3 1384.2,1844.6 1390.2,1847.8 1396.3,1847 1403.5,1850.7 1413.1,1854.3 1418,1854.8 1422.8,1853.1 1432.4,1855 1442,1856.2 1451.7,1859.1 1458.9,1861.5 1466.1,1862.7 1473.4,1863.9 1480.6,1867.5"/>
<polyline fill="none" stroke="#3847ae" stroke-width="2.8" stroke-linejoin="round" stroke-linecap="butt" clip-path="url(#c4)" points="444,1848.1 451.3,1848.4 455,1850.3 460.5,1847 466,1848.4 473.3,1851.4 484.3,1853.9 495.3,1857.2 506.3,1858.7 517.3,1859.1 528.3,1860.5 539.3,1862 548.5,1863.5 554,1866.8 559.5,1868.2 568.7,1867.1 583.3,1866 588.8,1862 598,1861.3 612.7,1861.3 627.3,1862 642,1861.3 660.3,1860.9 675,1863.1 686,1865.7 697,1868.6 711.7,1870.1 726.3,1870.8 737.3,1872.3 752,1875.9 763,1877.4 770.4,1880 777,1881.4 783.2,1880 794.2,1878.9 803.4,1876.7 812.5,1875.2 821.7,1876.3 840,1877.4 858.4,1877.8 876.7,1879.2 895,1881.4 913.4,1883.6 931.7,1884.7 950,1885.8 968.4,1886.2 986.7,1886.2 1005,1885.8 1023.4,1884.7 1030,1884.4 1044.5,1882.2 1054.1,1880.5 1063.7,1878.6 1073.4,1876.7 1080.6,1872.3 1090.2,1866.5 1099.9,1860.3 1107.1,1856.2 1114.3,1849.7 1121.6,1841.7 1128.8,1833.3 1136,1826.1 1142,1826.1 1148.1,1823.7 1152.9,1815.2 1158.9,1804.4 1164.9,1794.7 1172.2,1785.6 1177,1775.5 1181.8,1769.4 1187.8,1763.4 1196.3,1762.2 1203.5,1759.3 1213.1,1759.8 1217.5,1755 1222.8,1757.9 1227.6,1757.4 1234.8,1760.5 1242,1764.1 1248.1,1765.8 1256.5,1770.2 1261.8,1780.3 1267.3,1785.1 1272.2,1786.8 1277,1783.9 1284.2,1788.7 1291.4,1792.3 1296.3,1788 1307.1,1785.8 1311.9,1790.4 1318,1792.3 1326.4,1797.2 1333.6,1804.4 1340.8,1811.6 1348.1,1816.4 1355.3,1824.9 1362.5,1831.4 1369.8,1835.7 1377,1840.5 1386.6,1844.6 1396.3,1848.2 1405.9,1851.4 1415.5,1853.3 1425.2,1855.7 1434.8,1857.4 1444.5,1858.6 1451.7,1859.3 1458.9,1863.9 1468.6,1864.1 1475.8,1867 1480.6,1868.5"/>
<rect x="156.4" y="1757.7" width="182.4" height="60.2" rx="3.5" ry="3.5" fill="#ffffff" fill-opacity="0.8" stroke="#d8d8d8" stroke-opacity="0.8" stroke-width="1"/>
<line x1="162.8" y1="1772.6" x2="201.2" y2="1772.6" stroke="#dc1a16" stroke-width="2.8"/>
<line x1="162.8" y1="1799.6" x2="201.2" y2="1799.6" stroke="#3847ae" stroke-width="2.8"/>
<text x="214" y="1779.3" font-family="'DejaVu Sans', 'Liberation Sans', sans-serif" font-size="18" text-anchor="start" fill="#141210">Prediction</text>
<text x="214" y="1806.2" font-family="'DejaVu Sans', 'Liberation Sans', sans-serif" font-size="18" text-anchor="start" fill="#141210">Ground truth</text>
<rect x="148" y="1748.9" width="1337.6" height="144.3" fill="none" stroke="#1e1b18" stroke-width="1.7"/>
<line x1="157.3" y1="1893.2" x2="157.3" y2="1899.4" stroke="#1e1b18" stroke-width="1.3"/>
<text transform="translate(156.7,1931.6) rotate(-30)" x="0" y="6.6" font-family="'DejaVu Sans', 'Liberation Sans', sans-serif" font-size="18" text-anchor="middle" fill="#141210">2022-01</text>
<line x1="310.9" y1="1893.2" x2="310.9" y2="1899.4" stroke="#1e1b18" stroke-width="1.3"/>
<text transform="translate(310.3,1931.6) rotate(-30)" x="0" y="6.6" font-family="'DejaVu Sans', 'Liberation Sans', sans-serif" font-size="18" text-anchor="middle" fill="#141210">2022-02</text>
<line x1="449.6" y1="1893.2" x2="449.6" y2="1899.4" stroke="#1e1b18" stroke-width="1.3"/>
<text transform="translate(449,1931.6) rotate(-30)" x="0" y="6.6" font-family="'DejaVu Sans', 'Liberation Sans', sans-serif" font-size="18" text-anchor="middle" fill="#141210">2022-03</text>
<line x1="603.2" y1="1893.2" x2="603.2" y2="1899.4" stroke="#1e1b18" stroke-width="1.3"/>
<text transform="translate(602.6,1931.6) rotate(-30)" x="0" y="6.6" font-family="'DejaVu Sans', 'Liberation Sans', sans-serif" font-size="18" text-anchor="middle" fill="#141210">2022-04</text>
<line x1="751.9" y1="1893.2" x2="751.9" y2="1899.4" stroke="#1e1b18" stroke-width="1.3"/>
<text transform="translate(751.3,1931.6) rotate(-30)" x="0" y="6.6" font-family="'DejaVu Sans', 'Liberation Sans', sans-serif" font-size="18" text-anchor="middle" fill="#141210">2022-05</text>
<line x1="905.5" y1="1893.2" x2="905.5" y2="1899.4" stroke="#1e1b18" stroke-width="1.3"/>
<text transform="translate(904.9,1931.6) rotate(-30)" x="0" y="6.6" font-family="'DejaVu Sans', 'Liberation Sans', sans-serif" font-size="18" text-anchor="middle" fill="#141210">2022-06</text>
<line x1="1054.2" y1="1893.2" x2="1054.2" y2="1899.4" stroke="#1e1b18" stroke-width="1.3"/>
<text transform="translate(1053.6,1931.6) rotate(-30)" x="0" y="6.6" font-family="'DejaVu Sans', 'Liberation Sans', sans-serif" font-size="18" text-anchor="middle" fill="#141210">2022-07</text>
<line x1="1207.8" y1="1893.2" x2="1207.8" y2="1899.4" stroke="#1e1b18" stroke-width="1.3"/>
<text transform="translate(1207.2,1931.6) rotate(-30)" x="0" y="6.6" font-family="'DejaVu Sans', 'Liberation Sans', sans-serif" font-size="18" text-anchor="middle" fill="#141210">2022-08</text>
<line x1="1361.4" y1="1893.2" x2="1361.4" y2="1899.4" stroke="#1e1b18" stroke-width="1.3"/>
<text transform="translate(1360.8,1931.6) rotate(-30)" x="0" y="6.6" font-family="'DejaVu Sans', 'Liberation Sans', sans-serif" font-size="18" text-anchor="middle" fill="#141210">2022-09</text>
<line x1="141.8" y1="1892.6" x2="148" y2="1892.6" stroke="#1e1b18" stroke-width="1.3"/>
<text x="133.8" y="1899.2" font-family="'DejaVu Sans', 'Liberation Sans', sans-serif" font-size="18" text-anchor="end" fill="#141210">0</text>
<line x1="141.8" y1="1851.5" x2="148" y2="1851.5" stroke="#1e1b18" stroke-width="1.3"/>
<text x="133.8" y="1858.1" font-family="'DejaVu Sans', 'Liberation Sans', sans-serif" font-size="18" text-anchor="end" fill="#141210">10000</text>
<line x1="141.8" y1="1810.3" x2="148" y2="1810.3" stroke="#1e1b18" stroke-width="1.3"/>
<text x="133.8" y="1816.9" font-family="'DejaVu Sans', 'Liberation Sans', sans-serif" font-size="18" text-anchor="end" fill="#141210">20000</text>
<line x1="141.8" y1="1769.2" x2="148" y2="1769.2" stroke="#1e1b18" stroke-width="1.3"/>
<text x="133.8" y="1775.8" font-family="'DejaVu Sans', 'Liberation Sans', sans-serif" font-size="18" text-anchor="end" fill="#141210">30000</text>
<text transform="translate(66.2,1821.1) rotate(-90)" x="0" y="0" font-family="'DejaVu Sans', 'Liberation Sans', sans-serif" font-size="18" text-anchor="middle" fill="#141210">Number of PC</text>
<text x="816.8" y="1980.2" font-family="'DejaVu Sans', 'Liberation Sans', sans-serif" font-size="18" text-anchor="middle" fill="#141210">Days</text>
<clipPath id="c5"><rect x="1562.6" y="1748.9" width="394" height="144.4"/></clipPath>
<rect x="1562.6" y="1748.9" width="394" height="144.4" fill="#fdd7de"/>
<line x1="1575.6" y1="1748.9" x2="1575.6" y2="1893.3" stroke="#c3c1bf" stroke-width="1.1"/>
<line x1="1636.9" y1="1748.9" x2="1636.9" y2="1893.3" stroke="#c3c1bf" stroke-width="1.1"/>
<line x1="1711.3" y1="1748.9" x2="1711.3" y2="1893.3" stroke="#c3c1bf" stroke-width="1.1"/>
<line x1="1772.6" y1="1748.9" x2="1772.6" y2="1893.3" stroke="#c3c1bf" stroke-width="1.1"/>
<line x1="1847" y1="1748.9" x2="1847" y2="1893.3" stroke="#c3c1bf" stroke-width="1.1"/>
<line x1="1908.3" y1="1748.9" x2="1908.3" y2="1893.3" stroke="#c3c1bf" stroke-width="1.1"/>
<line x1="1562.6" y1="1880.6" x2="1956.6" y2="1880.6" stroke="#c3c1bf" stroke-width="1.1"/>
<line x1="1562.6" y1="1832.7" x2="1956.6" y2="1832.7" stroke="#c3c1bf" stroke-width="1.1"/>
<line x1="1562.6" y1="1784.8" x2="1956.6" y2="1784.8" stroke="#c3c1bf" stroke-width="1.1"/>
<polyline fill="none" stroke="#12982a" stroke-width="2.6" stroke-linejoin="round" stroke-linecap="butt" clip-path="url(#c5)" points="1562.9,1878.8 1567.3,1877.3 1571.7,1877 1575.8,1878.6 1580.2,1879.9 1584.6,1877.5 1589,1879.1 1593.3,1874.7 1597.7,1866.5 1602.1,1868.3 1606.5,1869 1610.9,1867.2 1615.3,1869.8 1619.6,1880.6 1624,1866.5 1628.4,1855.4 1632.8,1858.7 1637.2,1851.5 1641.5,1856.7 1645.9,1863.9 1650.3,1877.5 1654.7,1870.3 1659.1,1864.7 1663.4,1823.9 1667.8,1823.4 1672.2,1834.2 1676.6,1853.1 1681,1868.5 1685.4,1842.8 1689.7,1876.8 1694.1,1841.2 1698.5,1858.7 1702.9,1858.7 1707.3,1855.4 1711.6,1872.9 1716,1860 1720.4,1838.6 1724.8,1878.1 1729.2,1864.7 1733.6,1872.9 1737.9,1879.3 1742.3,1876 1746.7,1860.5 1751.1,1861.8 1755.5,1876.8 1759.1,1851.5 1763.4,1868.3 1767.8,1856.2 1772.2,1834.2 1776.6,1867.7 1781,1864.7 1785.4,1876.8 1789.7,1855.4 1794.1,1870.3 1798.5,1860 1802.9,1872.9 1807.3,1868.3 1811.6,1869.3 1816,1879.9 1820.4,1879.3 1824.8,1875 1829.2,1879.3 1833.5,1870.3 1837.9,1876.3 1842.3,1865.2 1846.7,1880.1 1851.1,1876.8 1855.5,1876 1859.8,1874.7 1864.2,1872.4 1868.6,1880.1 1873,1871.6 1877.4,1876.3 1881.7,1879.9 1886.1,1877.5 1890.5,1877.5 1894.9,1874.2 1899.3,1880.6 1903.7,1872.4 1908,1875.5 1912.4,1877.5 1916.8,1871.6 1921.2,1876.3 1925.6,1880.6 1929.9,1869 1934.3,1870.8 1938.7,1875 1943.1,1876.8 1947.5,1868.3 1952.1,1880.6"/>
<rect x="1571.2" y="1758.1" width="109" height="31.2" rx="3.5" ry="3.5" fill="#ffffff" fill-opacity="0.8" stroke="#d8d8d8" stroke-opacity="0.8" stroke-width="1"/>
<line x1="1577.6" y1="1772.7" x2="1615.6" y2="1772.7" stroke="#12982a" stroke-width="2.8"/>
<text x="1629" y="1778.7" font-family="'DejaVu Sans', 'Liberation Sans', sans-serif" font-size="18" text-anchor="start" fill="#141210">Error</text>
<rect x="1562.6" y="1748.9" width="394" height="144.4" fill="none" stroke="#1e1b18" stroke-width="1.7"/>
<line x1="1575.6" y1="1893.3" x2="1575.6" y2="1899.5" stroke="#1e1b18" stroke-width="1.3"/>
<text transform="translate(1574.4,1939.7) rotate(-30)" x="0" y="6.6" font-family="'DejaVu Sans', 'Liberation Sans', sans-serif" font-size="18" text-anchor="middle" fill="#141210">2022-07-01</text>
<line x1="1636.9" y1="1893.3" x2="1636.9" y2="1899.5" stroke="#1e1b18" stroke-width="1.3"/>
<text transform="translate(1635.7,1939.7) rotate(-30)" x="0" y="6.6" font-family="'DejaVu Sans', 'Liberation Sans', sans-serif" font-size="18" text-anchor="middle" fill="#141210">2022-07-15</text>
<line x1="1711.3" y1="1893.3" x2="1711.3" y2="1899.5" stroke="#1e1b18" stroke-width="1.3"/>
<text transform="translate(1710.1,1939.7) rotate(-30)" x="0" y="6.6" font-family="'DejaVu Sans', 'Liberation Sans', sans-serif" font-size="18" text-anchor="middle" fill="#141210">2022-08-01</text>
<line x1="1772.6" y1="1893.3" x2="1772.6" y2="1899.5" stroke="#1e1b18" stroke-width="1.3"/>
<text transform="translate(1771.4,1939.7) rotate(-30)" x="0" y="6.6" font-family="'DejaVu Sans', 'Liberation Sans', sans-serif" font-size="18" text-anchor="middle" fill="#141210">2022-08-15</text>
<line x1="1847" y1="1893.3" x2="1847" y2="1899.5" stroke="#1e1b18" stroke-width="1.3"/>
<text transform="translate(1845.8,1939.7) rotate(-30)" x="0" y="6.6" font-family="'DejaVu Sans', 'Liberation Sans', sans-serif" font-size="18" text-anchor="middle" fill="#141210">2022-09-01</text>
<line x1="1908.3" y1="1893.3" x2="1908.3" y2="1899.5" stroke="#1e1b18" stroke-width="1.3"/>
<text transform="translate(1907.1,1939.7) rotate(-30)" x="0" y="6.6" font-family="'DejaVu Sans', 'Liberation Sans', sans-serif" font-size="18" text-anchor="middle" fill="#141210">2022-09-15</text>
<line x1="1556.4" y1="1880.6" x2="1562.6" y2="1880.6" stroke="#1e1b18" stroke-width="1.3"/>
<text x="1549.5" y="1887.2" font-family="'DejaVu Sans', 'Liberation Sans', sans-serif" font-size="18" text-anchor="end" fill="#141210">0</text>
<line x1="1556.4" y1="1832.7" x2="1562.6" y2="1832.7" stroke="#1e1b18" stroke-width="1.3"/>
<text x="1549.5" y="1839.3" font-family="'DejaVu Sans', 'Liberation Sans', sans-serif" font-size="18" text-anchor="end" fill="#141210">2000</text>
<line x1="1556.4" y1="1784.8" x2="1562.6" y2="1784.8" stroke="#1e1b18" stroke-width="1.3"/>
<text x="1549.5" y="1791.4" font-family="'DejaVu Sans', 'Liberation Sans', sans-serif" font-size="18" text-anchor="end" fill="#141210">4000</text>
<text x="1759.6" y="1995.4" font-family="'DejaVu Sans', 'Liberation Sans', sans-serif" font-size="18" text-anchor="middle" fill="#141210">Days</text>
</svg>
</body>
</html>
